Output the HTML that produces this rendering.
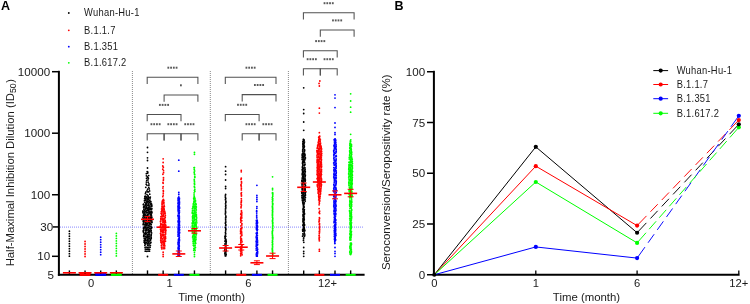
<!DOCTYPE html><html><head><meta charset="utf-8"><style>html,body{margin:0;padding:0;background:#fff;width:750px;height:304px;overflow:hidden}svg{display:block}</style></head><body>
<svg style="will-change:transform" width="750" height="304" viewBox="0 0 750 304" font-family='"Liberation Sans", sans-serif'>
<rect width="750" height="304" fill="#fff"/>
<text x="1" y="9.8" font-size="12.5" font-weight="bold" fill="#000">A</text>
<circle cx="68.8" cy="13" r="0.9" fill="#000"/>
<text transform="translate(84.1 16.30) scale(0.9 1)" font-size="10.4" letter-spacing="0.3" fill="#1a1a1a">Wuhan-Hu-1</text>
<circle cx="68.8" cy="30.3" r="0.9" fill="#ff0000"/>
<text transform="translate(84.1 33.60) scale(0.9 1)" font-size="10.4" letter-spacing="0.3" fill="#1a1a1a">B.1.1.7</text>
<circle cx="68.8" cy="46.7" r="0.9" fill="#0000ff"/>
<text transform="translate(84.1 50.00) scale(0.9 1)" font-size="10.4" letter-spacing="0.3" fill="#1a1a1a">B.1.351</text>
<circle cx="68.8" cy="62.8" r="0.9" fill="#00ff00"/>
<text transform="translate(84.1 66.10) scale(0.9 1)" font-size="10.4" letter-spacing="0.3" fill="#1a1a1a">B.1.617.2</text>
<line x1="132.4" y1="71" x2="132.4" y2="274" stroke="#8a8a8a" stroke-width="1" stroke-dasharray="1 1"/>
<line x1="210.3" y1="71" x2="210.3" y2="274" stroke="#8a8a8a" stroke-width="1" stroke-dasharray="1 1"/>
<line x1="288.4" y1="71" x2="288.4" y2="274" stroke="#8a8a8a" stroke-width="1" stroke-dasharray="1 1"/>
<line x1="60" y1="227.1" x2="364" y2="227.1" stroke="#7a7aff" stroke-width="0.9" stroke-dasharray="1 1"/>
<line x1="52" y1="71.70" x2="59" y2="71.70" stroke="#000" stroke-width="1.5"/>
<text x="50.1" y="75.80" font-size="11.6" text-anchor="end" fill="#1a1a1a">10000</text>
<line x1="52" y1="133.20" x2="59" y2="133.20" stroke="#000" stroke-width="1.5"/>
<text x="50.1" y="137.30" font-size="11.6" text-anchor="end" fill="#1a1a1a">1000</text>
<line x1="52" y1="194.75" x2="59" y2="194.75" stroke="#000" stroke-width="1.5"/>
<text x="50.1" y="198.85" font-size="11.6" text-anchor="end" fill="#1a1a1a">100</text>
<line x1="53" y1="226.93" x2="59" y2="226.93" stroke="#000" stroke-width="1.5"/>
<text x="53.1" y="231.03" font-size="11.6" text-anchor="end" fill="#1a1a1a">30</text>
<line x1="52" y1="256.30" x2="59" y2="256.30" stroke="#000" stroke-width="1.5"/>
<text x="50.1" y="260.40" font-size="11.6" text-anchor="end" fill="#1a1a1a">10</text>
<text x="53.9" y="278.70" font-size="11.6" text-anchor="end" fill="#1a1a1a">5</text>
<line x1="58.9" y1="70.8" x2="58.9" y2="275.8" stroke="#000" stroke-width="2"/>
<text transform="translate(13.6 172.6) rotate(-90)" font-size="11.3" text-anchor="middle" fill="#1a1a1a">Half-Maximal Inhibition Dilution (ID<tspan font-size="8.8" dy="2.4">50</tspan><tspan dy="-2.4" dx="0.6">)</tspan></text>
<circle cx="69.40" cy="231.20" r="0.9" fill="#000"/>
<circle cx="69.40" cy="233.70" r="0.9" fill="#000"/>
<circle cx="69.40" cy="236.20" r="0.9" fill="#000"/>
<circle cx="69.40" cy="238.70" r="0.9" fill="#000"/>
<circle cx="69.40" cy="241.20" r="0.9" fill="#000"/>
<circle cx="69.40" cy="243.70" r="0.9" fill="#000"/>
<circle cx="69.40" cy="246.20" r="0.9" fill="#000"/>
<circle cx="69.40" cy="248.70" r="0.9" fill="#000"/>
<circle cx="69.40" cy="251.20" r="0.9" fill="#000"/>
<circle cx="69.40" cy="253.70" r="0.9" fill="#000"/>
<circle cx="69.40" cy="256.20" r="0.9" fill="#000"/>
<circle cx="147.50" cy="147.50" r="0.9" fill="#000"/>
<circle cx="147.50" cy="152.30" r="0.9" fill="#000"/>
<circle cx="147.50" cy="157.80" r="0.9" fill="#000"/>
<circle cx="147.50" cy="160.50" r="0.9" fill="#000"/>
<circle cx="147.50" cy="168.00" r="0.9" fill="#000"/>
<circle cx="147.18" cy="171.58" r="0.9" fill="#000"/>
<circle cx="147.84" cy="172.04" r="0.9" fill="#000"/>
<circle cx="146.38" cy="173.71" r="0.9" fill="#000"/>
<circle cx="147.57" cy="173.18" r="0.9" fill="#000"/>
<circle cx="146.42" cy="175.79" r="0.9" fill="#000"/>
<circle cx="148.67" cy="175.55" r="0.9" fill="#000"/>
<circle cx="147.38" cy="176.98" r="0.9" fill="#000"/>
<circle cx="147.94" cy="177.53" r="0.9" fill="#000"/>
<circle cx="146.51" cy="178.34" r="0.9" fill="#000"/>
<circle cx="148.36" cy="178.42" r="0.9" fill="#000"/>
<circle cx="146.73" cy="180.35" r="0.9" fill="#000"/>
<circle cx="147.97" cy="179.97" r="0.9" fill="#000"/>
<circle cx="146.38" cy="182.11" r="0.9" fill="#000"/>
<circle cx="148.15" cy="182.14" r="0.9" fill="#000"/>
<circle cx="146.24" cy="184.14" r="0.9" fill="#000"/>
<circle cx="148.91" cy="183.93" r="0.9" fill="#000"/>
<circle cx="147.03" cy="185.35" r="0.9" fill="#000"/>
<circle cx="148.86" cy="185.50" r="0.9" fill="#000"/>
<circle cx="145.76" cy="187.29" r="0.9" fill="#000"/>
<circle cx="148.78" cy="187.62" r="0.9" fill="#000"/>
<circle cx="147.61" cy="189.23" r="0.9" fill="#000"/>
<circle cx="149.24" cy="188.95" r="0.9" fill="#000"/>
<circle cx="146.97" cy="190.90" r="0.9" fill="#000"/>
<circle cx="149.57" cy="190.88" r="0.9" fill="#000"/>
<circle cx="145.75" cy="192.14" r="0.9" fill="#000"/>
<circle cx="147.45" cy="191.83" r="0.9" fill="#000"/>
<circle cx="148.59" cy="191.94" r="0.9" fill="#000"/>
<circle cx="145.44" cy="193.66" r="0.9" fill="#000"/>
<circle cx="147.00" cy="194.55" r="0.9" fill="#000"/>
<circle cx="149.72" cy="194.16" r="0.9" fill="#000"/>
<circle cx="145.33" cy="196.24" r="0.9" fill="#000"/>
<circle cx="147.96" cy="195.63" r="0.9" fill="#000"/>
<circle cx="144.86" cy="196.71" r="0.9" fill="#000"/>
<circle cx="146.78" cy="196.99" r="0.9" fill="#000"/>
<circle cx="148.23" cy="196.55" r="0.9" fill="#000"/>
<circle cx="150.31" cy="197.06" r="0.9" fill="#000"/>
<circle cx="145.04" cy="198.01" r="0.9" fill="#000"/>
<circle cx="146.58" cy="197.60" r="0.9" fill="#000"/>
<circle cx="147.77" cy="198.34" r="0.9" fill="#000"/>
<circle cx="148.43" cy="197.91" r="0.9" fill="#000"/>
<circle cx="149.68" cy="197.61" r="0.9" fill="#000"/>
<circle cx="144.62" cy="198.70" r="0.9" fill="#000"/>
<circle cx="145.82" cy="198.55" r="0.9" fill="#000"/>
<circle cx="147.07" cy="198.88" r="0.9" fill="#000"/>
<circle cx="148.55" cy="199.10" r="0.9" fill="#000"/>
<circle cx="150.11" cy="198.86" r="0.9" fill="#000"/>
<circle cx="145.04" cy="200.31" r="0.9" fill="#000"/>
<circle cx="145.68" cy="199.99" r="0.9" fill="#000"/>
<circle cx="147.29" cy="199.86" r="0.9" fill="#000"/>
<circle cx="148.52" cy="199.70" r="0.9" fill="#000"/>
<circle cx="144.47" cy="200.68" r="0.9" fill="#000"/>
<circle cx="146.40" cy="201.03" r="0.9" fill="#000"/>
<circle cx="147.29" cy="201.18" r="0.9" fill="#000"/>
<circle cx="149.28" cy="200.70" r="0.9" fill="#000"/>
<circle cx="150.41" cy="201.25" r="0.9" fill="#000"/>
<circle cx="144.70" cy="202.28" r="0.9" fill="#000"/>
<circle cx="146.17" cy="202.28" r="0.9" fill="#000"/>
<circle cx="147.52" cy="201.75" r="0.9" fill="#000"/>
<circle cx="148.69" cy="201.58" r="0.9" fill="#000"/>
<circle cx="150.91" cy="201.78" r="0.9" fill="#000"/>
<circle cx="145.90" cy="203.39" r="0.9" fill="#000"/>
<circle cx="147.93" cy="202.75" r="0.9" fill="#000"/>
<circle cx="149.65" cy="202.73" r="0.9" fill="#000"/>
<circle cx="150.88" cy="203.31" r="0.9" fill="#000"/>
<circle cx="143.56" cy="204.27" r="0.9" fill="#000"/>
<circle cx="145.61" cy="204.37" r="0.9" fill="#000"/>
<circle cx="146.50" cy="203.98" r="0.9" fill="#000"/>
<circle cx="148.48" cy="203.85" r="0.9" fill="#000"/>
<circle cx="151.47" cy="203.91" r="0.9" fill="#000"/>
<circle cx="143.43" cy="204.70" r="0.9" fill="#000"/>
<circle cx="145.54" cy="205.36" r="0.9" fill="#000"/>
<circle cx="147.19" cy="205.29" r="0.9" fill="#000"/>
<circle cx="148.29" cy="204.87" r="0.9" fill="#000"/>
<circle cx="150.16" cy="204.56" r="0.9" fill="#000"/>
<circle cx="151.62" cy="205.02" r="0.9" fill="#000"/>
<circle cx="143.89" cy="206.33" r="0.9" fill="#000"/>
<circle cx="144.97" cy="205.78" r="0.9" fill="#000"/>
<circle cx="146.50" cy="206.08" r="0.9" fill="#000"/>
<circle cx="148.65" cy="205.67" r="0.9" fill="#000"/>
<circle cx="149.92" cy="205.96" r="0.9" fill="#000"/>
<circle cx="151.78" cy="205.93" r="0.9" fill="#000"/>
<circle cx="143.59" cy="207.03" r="0.9" fill="#000"/>
<circle cx="144.85" cy="206.95" r="0.9" fill="#000"/>
<circle cx="146.42" cy="207.27" r="0.9" fill="#000"/>
<circle cx="148.34" cy="207.20" r="0.9" fill="#000"/>
<circle cx="149.91" cy="207.02" r="0.9" fill="#000"/>
<circle cx="151.49" cy="206.65" r="0.9" fill="#000"/>
<circle cx="143.78" cy="207.80" r="0.9" fill="#000"/>
<circle cx="145.35" cy="208.06" r="0.9" fill="#000"/>
<circle cx="146.81" cy="207.95" r="0.9" fill="#000"/>
<circle cx="148.47" cy="208.01" r="0.9" fill="#000"/>
<circle cx="149.86" cy="208.03" r="0.9" fill="#000"/>
<circle cx="143.90" cy="209.34" r="0.9" fill="#000"/>
<circle cx="145.23" cy="209.05" r="0.9" fill="#000"/>
<circle cx="145.83" cy="208.67" r="0.9" fill="#000"/>
<circle cx="147.27" cy="208.62" r="0.9" fill="#000"/>
<circle cx="149.09" cy="209.15" r="0.9" fill="#000"/>
<circle cx="150.36" cy="208.69" r="0.9" fill="#000"/>
<circle cx="151.84" cy="208.68" r="0.9" fill="#000"/>
<circle cx="144.72" cy="210.41" r="0.9" fill="#000"/>
<circle cx="146.45" cy="210.44" r="0.9" fill="#000"/>
<circle cx="147.51" cy="209.94" r="0.9" fill="#000"/>
<circle cx="148.68" cy="209.73" r="0.9" fill="#000"/>
<circle cx="150.24" cy="209.57" r="0.9" fill="#000"/>
<circle cx="151.38" cy="209.57" r="0.9" fill="#000"/>
<circle cx="143.04" cy="211.01" r="0.9" fill="#000"/>
<circle cx="145.79" cy="211.42" r="0.9" fill="#000"/>
<circle cx="147.75" cy="210.59" r="0.9" fill="#000"/>
<circle cx="148.79" cy="210.67" r="0.9" fill="#000"/>
<circle cx="149.99" cy="211.29" r="0.9" fill="#000"/>
<circle cx="151.63" cy="211.38" r="0.9" fill="#000"/>
<circle cx="143.00" cy="211.63" r="0.9" fill="#000"/>
<circle cx="144.38" cy="211.93" r="0.9" fill="#000"/>
<circle cx="146.40" cy="212.12" r="0.9" fill="#000"/>
<circle cx="147.11" cy="212.32" r="0.9" fill="#000"/>
<circle cx="148.72" cy="211.96" r="0.9" fill="#000"/>
<circle cx="150.02" cy="212.38" r="0.9" fill="#000"/>
<circle cx="151.36" cy="212.02" r="0.9" fill="#000"/>
<circle cx="142.96" cy="212.70" r="0.9" fill="#000"/>
<circle cx="144.57" cy="212.83" r="0.9" fill="#000"/>
<circle cx="146.12" cy="212.81" r="0.9" fill="#000"/>
<circle cx="147.07" cy="212.86" r="0.9" fill="#000"/>
<circle cx="149.09" cy="212.56" r="0.9" fill="#000"/>
<circle cx="150.23" cy="212.72" r="0.9" fill="#000"/>
<circle cx="151.92" cy="212.65" r="0.9" fill="#000"/>
<circle cx="143.63" cy="214.00" r="0.9" fill="#000"/>
<circle cx="144.89" cy="214.01" r="0.9" fill="#000"/>
<circle cx="147.69" cy="214.30" r="0.9" fill="#000"/>
<circle cx="148.75" cy="213.91" r="0.9" fill="#000"/>
<circle cx="149.89" cy="213.67" r="0.9" fill="#000"/>
<circle cx="151.36" cy="213.78" r="0.9" fill="#000"/>
<circle cx="143.63" cy="215.31" r="0.9" fill="#000"/>
<circle cx="144.47" cy="214.80" r="0.9" fill="#000"/>
<circle cx="145.79" cy="214.96" r="0.9" fill="#000"/>
<circle cx="147.92" cy="214.79" r="0.9" fill="#000"/>
<circle cx="150.72" cy="214.77" r="0.9" fill="#000"/>
<circle cx="151.25" cy="214.87" r="0.9" fill="#000"/>
<circle cx="143.33" cy="215.98" r="0.9" fill="#000"/>
<circle cx="144.27" cy="216.00" r="0.9" fill="#000"/>
<circle cx="146.02" cy="215.63" r="0.9" fill="#000"/>
<circle cx="147.32" cy="215.57" r="0.9" fill="#000"/>
<circle cx="148.92" cy="216.08" r="0.9" fill="#000"/>
<circle cx="150.48" cy="216.14" r="0.9" fill="#000"/>
<circle cx="151.52" cy="215.90" r="0.9" fill="#000"/>
<circle cx="144.86" cy="217.20" r="0.9" fill="#000"/>
<circle cx="146.47" cy="217.30" r="0.9" fill="#000"/>
<circle cx="147.78" cy="217.21" r="0.9" fill="#000"/>
<circle cx="148.89" cy="217.02" r="0.9" fill="#000"/>
<circle cx="150.56" cy="217.27" r="0.9" fill="#000"/>
<circle cx="151.82" cy="217.35" r="0.9" fill="#000"/>
<circle cx="142.95" cy="217.76" r="0.9" fill="#000"/>
<circle cx="144.39" cy="217.87" r="0.9" fill="#000"/>
<circle cx="146.24" cy="218.05" r="0.9" fill="#000"/>
<circle cx="147.49" cy="218.16" r="0.9" fill="#000"/>
<circle cx="149.10" cy="218.27" r="0.9" fill="#000"/>
<circle cx="150.40" cy="218.03" r="0.9" fill="#000"/>
<circle cx="151.41" cy="218.21" r="0.9" fill="#000"/>
<circle cx="143.60" cy="218.79" r="0.9" fill="#000"/>
<circle cx="145.19" cy="219.22" r="0.9" fill="#000"/>
<circle cx="146.11" cy="218.89" r="0.9" fill="#000"/>
<circle cx="147.61" cy="219.24" r="0.9" fill="#000"/>
<circle cx="148.55" cy="218.62" r="0.9" fill="#000"/>
<circle cx="150.06" cy="219.22" r="0.9" fill="#000"/>
<circle cx="151.21" cy="218.56" r="0.9" fill="#000"/>
<circle cx="143.59" cy="220.15" r="0.9" fill="#000"/>
<circle cx="144.79" cy="219.81" r="0.9" fill="#000"/>
<circle cx="145.80" cy="219.97" r="0.9" fill="#000"/>
<circle cx="147.93" cy="219.73" r="0.9" fill="#000"/>
<circle cx="148.82" cy="219.57" r="0.9" fill="#000"/>
<circle cx="150.18" cy="220.42" r="0.9" fill="#000"/>
<circle cx="151.98" cy="219.74" r="0.9" fill="#000"/>
<circle cx="143.12" cy="221.07" r="0.9" fill="#000"/>
<circle cx="144.46" cy="221.41" r="0.9" fill="#000"/>
<circle cx="146.50" cy="221.01" r="0.9" fill="#000"/>
<circle cx="147.86" cy="220.76" r="0.9" fill="#000"/>
<circle cx="148.41" cy="220.57" r="0.9" fill="#000"/>
<circle cx="150.03" cy="220.96" r="0.9" fill="#000"/>
<circle cx="151.39" cy="220.86" r="0.9" fill="#000"/>
<circle cx="143.69" cy="221.55" r="0.9" fill="#000"/>
<circle cx="145.19" cy="221.66" r="0.9" fill="#000"/>
<circle cx="145.97" cy="222.36" r="0.9" fill="#000"/>
<circle cx="147.95" cy="221.90" r="0.9" fill="#000"/>
<circle cx="148.78" cy="221.87" r="0.9" fill="#000"/>
<circle cx="149.83" cy="221.59" r="0.9" fill="#000"/>
<circle cx="151.93" cy="221.81" r="0.9" fill="#000"/>
<circle cx="143.50" cy="222.79" r="0.9" fill="#000"/>
<circle cx="145.24" cy="222.89" r="0.9" fill="#000"/>
<circle cx="146.28" cy="223.28" r="0.9" fill="#000"/>
<circle cx="147.54" cy="223.40" r="0.9" fill="#000"/>
<circle cx="149.05" cy="222.59" r="0.9" fill="#000"/>
<circle cx="150.30" cy="223.23" r="0.9" fill="#000"/>
<circle cx="151.90" cy="222.59" r="0.9" fill="#000"/>
<circle cx="143.37" cy="223.97" r="0.9" fill="#000"/>
<circle cx="145.27" cy="224.22" r="0.9" fill="#000"/>
<circle cx="145.99" cy="224.14" r="0.9" fill="#000"/>
<circle cx="147.20" cy="223.90" r="0.9" fill="#000"/>
<circle cx="149.19" cy="223.74" r="0.9" fill="#000"/>
<circle cx="150.52" cy="223.75" r="0.9" fill="#000"/>
<circle cx="143.26" cy="224.68" r="0.9" fill="#000"/>
<circle cx="144.75" cy="224.86" r="0.9" fill="#000"/>
<circle cx="146.77" cy="224.78" r="0.9" fill="#000"/>
<circle cx="148.21" cy="225.22" r="0.9" fill="#000"/>
<circle cx="149.77" cy="225.02" r="0.9" fill="#000"/>
<circle cx="151.26" cy="224.61" r="0.9" fill="#000"/>
<circle cx="145.25" cy="226.00" r="0.9" fill="#000"/>
<circle cx="146.51" cy="225.74" r="0.9" fill="#000"/>
<circle cx="148.24" cy="225.91" r="0.9" fill="#000"/>
<circle cx="151.01" cy="226.34" r="0.9" fill="#000"/>
<circle cx="143.94" cy="227.19" r="0.9" fill="#000"/>
<circle cx="144.70" cy="227.08" r="0.9" fill="#000"/>
<circle cx="147.01" cy="227.38" r="0.9" fill="#000"/>
<circle cx="148.06" cy="227.43" r="0.9" fill="#000"/>
<circle cx="149.87" cy="226.69" r="0.9" fill="#000"/>
<circle cx="151.62" cy="227.40" r="0.9" fill="#000"/>
<circle cx="143.57" cy="228.24" r="0.9" fill="#000"/>
<circle cx="145.42" cy="227.59" r="0.9" fill="#000"/>
<circle cx="146.85" cy="228.38" r="0.9" fill="#000"/>
<circle cx="148.06" cy="227.67" r="0.9" fill="#000"/>
<circle cx="149.49" cy="228.18" r="0.9" fill="#000"/>
<circle cx="151.47" cy="228.02" r="0.9" fill="#000"/>
<circle cx="143.72" cy="228.75" r="0.9" fill="#000"/>
<circle cx="145.14" cy="228.82" r="0.9" fill="#000"/>
<circle cx="148.25" cy="229.35" r="0.9" fill="#000"/>
<circle cx="150.24" cy="228.77" r="0.9" fill="#000"/>
<circle cx="150.94" cy="228.83" r="0.9" fill="#000"/>
<circle cx="143.58" cy="230.16" r="0.9" fill="#000"/>
<circle cx="145.57" cy="230.15" r="0.9" fill="#000"/>
<circle cx="146.58" cy="229.58" r="0.9" fill="#000"/>
<circle cx="148.00" cy="230.16" r="0.9" fill="#000"/>
<circle cx="149.81" cy="230.22" r="0.9" fill="#000"/>
<circle cx="151.18" cy="230.42" r="0.9" fill="#000"/>
<circle cx="143.43" cy="230.76" r="0.9" fill="#000"/>
<circle cx="145.61" cy="230.82" r="0.9" fill="#000"/>
<circle cx="146.49" cy="230.72" r="0.9" fill="#000"/>
<circle cx="148.67" cy="231.15" r="0.9" fill="#000"/>
<circle cx="149.54" cy="230.90" r="0.9" fill="#000"/>
<circle cx="143.30" cy="231.60" r="0.9" fill="#000"/>
<circle cx="145.57" cy="232.36" r="0.9" fill="#000"/>
<circle cx="147.13" cy="232.45" r="0.9" fill="#000"/>
<circle cx="148.65" cy="231.72" r="0.9" fill="#000"/>
<circle cx="149.93" cy="231.58" r="0.9" fill="#000"/>
<circle cx="151.15" cy="231.89" r="0.9" fill="#000"/>
<circle cx="143.59" cy="232.55" r="0.9" fill="#000"/>
<circle cx="144.93" cy="233.41" r="0.9" fill="#000"/>
<circle cx="148.53" cy="232.87" r="0.9" fill="#000"/>
<circle cx="149.32" cy="232.94" r="0.9" fill="#000"/>
<circle cx="151.59" cy="232.89" r="0.9" fill="#000"/>
<circle cx="144.22" cy="233.88" r="0.9" fill="#000"/>
<circle cx="145.60" cy="233.92" r="0.9" fill="#000"/>
<circle cx="146.35" cy="233.59" r="0.9" fill="#000"/>
<circle cx="148.01" cy="234.38" r="0.9" fill="#000"/>
<circle cx="149.54" cy="234.36" r="0.9" fill="#000"/>
<circle cx="151.24" cy="234.41" r="0.9" fill="#000"/>
<circle cx="143.78" cy="235.19" r="0.9" fill="#000"/>
<circle cx="145.60" cy="234.55" r="0.9" fill="#000"/>
<circle cx="147.19" cy="235.12" r="0.9" fill="#000"/>
<circle cx="148.19" cy="234.76" r="0.9" fill="#000"/>
<circle cx="143.97" cy="235.78" r="0.9" fill="#000"/>
<circle cx="145.13" cy="236.39" r="0.9" fill="#000"/>
<circle cx="147.10" cy="236.21" r="0.9" fill="#000"/>
<circle cx="148.04" cy="236.10" r="0.9" fill="#000"/>
<circle cx="149.83" cy="235.88" r="0.9" fill="#000"/>
<circle cx="151.19" cy="235.73" r="0.9" fill="#000"/>
<circle cx="143.70" cy="236.61" r="0.9" fill="#000"/>
<circle cx="145.90" cy="236.84" r="0.9" fill="#000"/>
<circle cx="146.61" cy="237.44" r="0.9" fill="#000"/>
<circle cx="148.18" cy="236.64" r="0.9" fill="#000"/>
<circle cx="149.29" cy="236.95" r="0.9" fill="#000"/>
<circle cx="151.04" cy="237.11" r="0.9" fill="#000"/>
<circle cx="144.35" cy="238.31" r="0.9" fill="#000"/>
<circle cx="145.33" cy="238.31" r="0.9" fill="#000"/>
<circle cx="147.05" cy="237.89" r="0.9" fill="#000"/>
<circle cx="147.93" cy="237.77" r="0.9" fill="#000"/>
<circle cx="149.55" cy="238.35" r="0.9" fill="#000"/>
<circle cx="151.24" cy="237.91" r="0.9" fill="#000"/>
<circle cx="144.56" cy="238.76" r="0.9" fill="#000"/>
<circle cx="145.53" cy="239.44" r="0.9" fill="#000"/>
<circle cx="147.81" cy="239.29" r="0.9" fill="#000"/>
<circle cx="148.92" cy="238.59" r="0.9" fill="#000"/>
<circle cx="151.14" cy="238.72" r="0.9" fill="#000"/>
<circle cx="144.25" cy="240.39" r="0.9" fill="#000"/>
<circle cx="145.72" cy="239.95" r="0.9" fill="#000"/>
<circle cx="147.15" cy="240.40" r="0.9" fill="#000"/>
<circle cx="148.81" cy="240.11" r="0.9" fill="#000"/>
<circle cx="150.37" cy="239.68" r="0.9" fill="#000"/>
<circle cx="144.59" cy="241.09" r="0.9" fill="#000"/>
<circle cx="145.82" cy="240.56" r="0.9" fill="#000"/>
<circle cx="147.33" cy="240.72" r="0.9" fill="#000"/>
<circle cx="149.07" cy="241.27" r="0.9" fill="#000"/>
<circle cx="150.46" cy="240.64" r="0.9" fill="#000"/>
<circle cx="144.17" cy="242.13" r="0.9" fill="#000"/>
<circle cx="145.94" cy="242.18" r="0.9" fill="#000"/>
<circle cx="147.91" cy="241.83" r="0.9" fill="#000"/>
<circle cx="148.85" cy="242.06" r="0.9" fill="#000"/>
<circle cx="150.91" cy="242.33" r="0.9" fill="#000"/>
<circle cx="144.82" cy="242.73" r="0.9" fill="#000"/>
<circle cx="146.42" cy="242.56" r="0.9" fill="#000"/>
<circle cx="147.42" cy="243.29" r="0.9" fill="#000"/>
<circle cx="148.64" cy="242.96" r="0.9" fill="#000"/>
<circle cx="150.51" cy="243.05" r="0.9" fill="#000"/>
<circle cx="144.81" cy="243.63" r="0.9" fill="#000"/>
<circle cx="145.78" cy="244.00" r="0.9" fill="#000"/>
<circle cx="147.88" cy="244.02" r="0.9" fill="#000"/>
<circle cx="149.17" cy="243.99" r="0.9" fill="#000"/>
<circle cx="144.88" cy="245.35" r="0.9" fill="#000"/>
<circle cx="147.67" cy="245.32" r="0.9" fill="#000"/>
<circle cx="148.95" cy="245.66" r="0.9" fill="#000"/>
<circle cx="150.41" cy="245.36" r="0.9" fill="#000"/>
<circle cx="145.05" cy="247.36" r="0.9" fill="#000"/>
<circle cx="146.09" cy="247.27" r="0.9" fill="#000"/>
<circle cx="147.45" cy="247.41" r="0.9" fill="#000"/>
<circle cx="148.89" cy="247.30" r="0.9" fill="#000"/>
<circle cx="150.12" cy="247.22" r="0.9" fill="#000"/>
<circle cx="145.25" cy="249.12" r="0.9" fill="#000"/>
<circle cx="146.33" cy="249.34" r="0.9" fill="#000"/>
<circle cx="147.47" cy="249.22" r="0.9" fill="#000"/>
<circle cx="148.76" cy="249.27" r="0.9" fill="#000"/>
<circle cx="149.69" cy="249.28" r="0.9" fill="#000"/>
<circle cx="145.27" cy="251.20" r="0.9" fill="#000"/>
<circle cx="146.78" cy="251.31" r="0.9" fill="#000"/>
<circle cx="148.05" cy="251.19" r="0.9" fill="#000"/>
<circle cx="149.46" cy="251.17" r="0.9" fill="#000"/>
<circle cx="147.50" cy="256.50" r="0.9" fill="#000"/>
<circle cx="225.60" cy="166.70" r="0.9" fill="#000"/>
<circle cx="225.60" cy="171.20" r="0.9" fill="#000"/>
<circle cx="225.60" cy="174.50" r="0.9" fill="#000"/>
<circle cx="225.60" cy="180.00" r="0.9" fill="#000"/>
<circle cx="225.60" cy="186.50" r="0.9" fill="#000"/>
<circle cx="225.60" cy="188.50" r="0.9" fill="#000"/>
<circle cx="225.60" cy="194.50" r="0.9" fill="#000"/>
<circle cx="225.34" cy="195.85" r="0.9" fill="#000"/>
<circle cx="225.42" cy="197.25" r="0.9" fill="#000"/>
<circle cx="225.72" cy="198.38" r="0.9" fill="#000"/>
<circle cx="225.45" cy="199.74" r="0.9" fill="#000"/>
<circle cx="225.86" cy="201.17" r="0.9" fill="#000"/>
<circle cx="225.83" cy="202.38" r="0.9" fill="#000"/>
<circle cx="225.50" cy="203.84" r="0.9" fill="#000"/>
<circle cx="225.76" cy="205.13" r="0.9" fill="#000"/>
<circle cx="225.66" cy="206.50" r="0.9" fill="#000"/>
<circle cx="225.80" cy="207.86" r="0.9" fill="#000"/>
<circle cx="225.52" cy="208.87" r="0.9" fill="#000"/>
<circle cx="225.47" cy="210.04" r="0.9" fill="#000"/>
<circle cx="225.57" cy="211.72" r="0.9" fill="#000"/>
<circle cx="225.58" cy="212.79" r="0.9" fill="#000"/>
<circle cx="225.34" cy="214.00" r="0.9" fill="#000"/>
<circle cx="225.75" cy="215.80" r="0.9" fill="#000"/>
<circle cx="225.89" cy="216.93" r="0.9" fill="#000"/>
<circle cx="225.59" cy="217.87" r="0.9" fill="#000"/>
<circle cx="225.63" cy="219.21" r="0.9" fill="#000"/>
<circle cx="225.69" cy="220.95" r="0.9" fill="#000"/>
<circle cx="225.69" cy="222.26" r="0.9" fill="#000"/>
<circle cx="225.38" cy="223.15" r="0.9" fill="#000"/>
<circle cx="225.80" cy="224.76" r="0.9" fill="#000"/>
<circle cx="225.68" cy="225.71" r="0.9" fill="#000"/>
<circle cx="225.40" cy="227.46" r="0.9" fill="#000"/>
<circle cx="225.75" cy="228.70" r="0.9" fill="#000"/>
<circle cx="225.80" cy="229.61" r="0.9" fill="#000"/>
<circle cx="225.63" cy="231.02" r="0.9" fill="#000"/>
<circle cx="225.44" cy="232.60" r="0.9" fill="#000"/>
<circle cx="225.68" cy="233.74" r="0.9" fill="#000"/>
<circle cx="225.41" cy="235.12" r="0.9" fill="#000"/>
<circle cx="224.96" cy="236.30" r="0.9" fill="#000"/>
<circle cx="225.78" cy="236.35" r="0.9" fill="#000"/>
<circle cx="225.13" cy="237.40" r="0.9" fill="#000"/>
<circle cx="225.12" cy="238.62" r="0.9" fill="#000"/>
<circle cx="225.74" cy="239.03" r="0.9" fill="#000"/>
<circle cx="225.33" cy="240.41" r="0.9" fill="#000"/>
<circle cx="226.14" cy="240.07" r="0.9" fill="#000"/>
<circle cx="225.05" cy="241.45" r="0.9" fill="#000"/>
<circle cx="226.25" cy="241.60" r="0.9" fill="#000"/>
<circle cx="226.02" cy="242.68" r="0.9" fill="#000"/>
<circle cx="224.96" cy="244.01" r="0.9" fill="#000"/>
<circle cx="226.04" cy="243.99" r="0.9" fill="#000"/>
<circle cx="225.41" cy="246.98" r="0.9" fill="#000"/>
<circle cx="225.80" cy="246.89" r="0.9" fill="#000"/>
<circle cx="225.01" cy="248.07" r="0.9" fill="#000"/>
<circle cx="226.06" cy="248.27" r="0.9" fill="#000"/>
<circle cx="225.03" cy="249.18" r="0.9" fill="#000"/>
<circle cx="225.89" cy="249.02" r="0.9" fill="#000"/>
<circle cx="224.87" cy="250.57" r="0.9" fill="#000"/>
<circle cx="226.13" cy="250.52" r="0.9" fill="#000"/>
<circle cx="225.15" cy="251.92" r="0.9" fill="#000"/>
<circle cx="225.89" cy="251.67" r="0.9" fill="#000"/>
<circle cx="224.88" cy="253.23" r="0.9" fill="#000"/>
<circle cx="225.85" cy="253.05" r="0.9" fill="#000"/>
<circle cx="225.10" cy="254.35" r="0.9" fill="#000"/>
<circle cx="226.14" cy="254.34" r="0.9" fill="#000"/>
<circle cx="225.16" cy="255.81" r="0.9" fill="#000"/>
<circle cx="225.84" cy="255.74" r="0.9" fill="#000"/>
<circle cx="303.70" cy="87.80" r="0.9" fill="#000"/>
<circle cx="303.70" cy="109.60" r="0.9" fill="#000"/>
<circle cx="303.70" cy="113.50" r="0.9" fill="#000"/>
<circle cx="303.70" cy="122.00" r="0.9" fill="#000"/>
<circle cx="303.70" cy="130.30" r="0.9" fill="#000"/>
<circle cx="303.36" cy="139.29" r="0.9" fill="#000"/>
<circle cx="303.69" cy="139.69" r="0.9" fill="#000"/>
<circle cx="304.04" cy="140.19" r="0.9" fill="#000"/>
<circle cx="303.15" cy="141.04" r="0.9" fill="#000"/>
<circle cx="303.80" cy="141.17" r="0.9" fill="#000"/>
<circle cx="302.95" cy="141.62" r="0.9" fill="#000"/>
<circle cx="304.49" cy="142.08" r="0.9" fill="#000"/>
<circle cx="303.03" cy="142.93" r="0.9" fill="#000"/>
<circle cx="303.90" cy="142.95" r="0.9" fill="#000"/>
<circle cx="302.82" cy="143.91" r="0.9" fill="#000"/>
<circle cx="304.00" cy="143.58" r="0.9" fill="#000"/>
<circle cx="303.19" cy="144.55" r="0.9" fill="#000"/>
<circle cx="304.12" cy="145.03" r="0.9" fill="#000"/>
<circle cx="303.34" cy="145.37" r="0.9" fill="#000"/>
<circle cx="302.96" cy="146.23" r="0.9" fill="#000"/>
<circle cx="304.38" cy="146.38" r="0.9" fill="#000"/>
<circle cx="303.19" cy="147.52" r="0.9" fill="#000"/>
<circle cx="304.08" cy="147.69" r="0.9" fill="#000"/>
<circle cx="303.31" cy="148.20" r="0.9" fill="#000"/>
<circle cx="302.76" cy="149.47" r="0.9" fill="#000"/>
<circle cx="304.47" cy="149.65" r="0.9" fill="#000"/>
<circle cx="302.86" cy="150.07" r="0.9" fill="#000"/>
<circle cx="304.56" cy="150.48" r="0.9" fill="#000"/>
<circle cx="302.62" cy="151.06" r="0.9" fill="#000"/>
<circle cx="304.38" cy="151.63" r="0.9" fill="#000"/>
<circle cx="302.81" cy="151.93" r="0.9" fill="#000"/>
<circle cx="302.78" cy="153.61" r="0.9" fill="#000"/>
<circle cx="303.66" cy="153.12" r="0.9" fill="#000"/>
<circle cx="304.49" cy="153.44" r="0.9" fill="#000"/>
<circle cx="302.24" cy="154.04" r="0.9" fill="#000"/>
<circle cx="303.74" cy="153.88" r="0.9" fill="#000"/>
<circle cx="304.78" cy="154.28" r="0.9" fill="#000"/>
<circle cx="302.19" cy="155.16" r="0.9" fill="#000"/>
<circle cx="303.76" cy="154.86" r="0.9" fill="#000"/>
<circle cx="305.02" cy="155.05" r="0.9" fill="#000"/>
<circle cx="302.80" cy="155.84" r="0.9" fill="#000"/>
<circle cx="304.00" cy="156.37" r="0.9" fill="#000"/>
<circle cx="304.63" cy="155.82" r="0.9" fill="#000"/>
<circle cx="302.37" cy="156.74" r="0.9" fill="#000"/>
<circle cx="303.67" cy="156.74" r="0.9" fill="#000"/>
<circle cx="305.03" cy="157.08" r="0.9" fill="#000"/>
<circle cx="302.22" cy="157.76" r="0.9" fill="#000"/>
<circle cx="303.49" cy="157.70" r="0.9" fill="#000"/>
<circle cx="305.41" cy="158.00" r="0.9" fill="#000"/>
<circle cx="302.37" cy="159.30" r="0.9" fill="#000"/>
<circle cx="303.85" cy="159.01" r="0.9" fill="#000"/>
<circle cx="304.74" cy="159.15" r="0.9" fill="#000"/>
<circle cx="302.38" cy="159.52" r="0.9" fill="#000"/>
<circle cx="304.01" cy="159.73" r="0.9" fill="#000"/>
<circle cx="304.72" cy="159.96" r="0.9" fill="#000"/>
<circle cx="302.71" cy="161.08" r="0.9" fill="#000"/>
<circle cx="303.78" cy="160.65" r="0.9" fill="#000"/>
<circle cx="302.78" cy="161.89" r="0.9" fill="#000"/>
<circle cx="303.95" cy="161.67" r="0.9" fill="#000"/>
<circle cx="304.38" cy="162.14" r="0.9" fill="#000"/>
<circle cx="302.63" cy="162.68" r="0.9" fill="#000"/>
<circle cx="303.89" cy="162.55" r="0.9" fill="#000"/>
<circle cx="304.57" cy="162.47" r="0.9" fill="#000"/>
<circle cx="302.56" cy="163.46" r="0.9" fill="#000"/>
<circle cx="305.01" cy="164.08" r="0.9" fill="#000"/>
<circle cx="302.87" cy="164.63" r="0.9" fill="#000"/>
<circle cx="304.73" cy="164.98" r="0.9" fill="#000"/>
<circle cx="302.96" cy="165.36" r="0.9" fill="#000"/>
<circle cx="304.22" cy="165.83" r="0.9" fill="#000"/>
<circle cx="302.52" cy="166.43" r="0.9" fill="#000"/>
<circle cx="302.43" cy="167.70" r="0.9" fill="#000"/>
<circle cx="304.02" cy="167.85" r="0.9" fill="#000"/>
<circle cx="304.92" cy="167.77" r="0.9" fill="#000"/>
<circle cx="302.91" cy="168.40" r="0.9" fill="#000"/>
<circle cx="303.54" cy="168.75" r="0.9" fill="#000"/>
<circle cx="302.28" cy="169.76" r="0.9" fill="#000"/>
<circle cx="305.08" cy="169.20" r="0.9" fill="#000"/>
<circle cx="302.48" cy="170.11" r="0.9" fill="#000"/>
<circle cx="304.03" cy="170.34" r="0.9" fill="#000"/>
<circle cx="304.80" cy="170.52" r="0.9" fill="#000"/>
<circle cx="302.60" cy="171.53" r="0.9" fill="#000"/>
<circle cx="303.62" cy="171.56" r="0.9" fill="#000"/>
<circle cx="305.22" cy="171.42" r="0.9" fill="#000"/>
<circle cx="302.67" cy="172.33" r="0.9" fill="#000"/>
<circle cx="303.69" cy="171.85" r="0.9" fill="#000"/>
<circle cx="305.25" cy="171.94" r="0.9" fill="#000"/>
<circle cx="302.36" cy="173.28" r="0.9" fill="#000"/>
<circle cx="303.58" cy="172.97" r="0.9" fill="#000"/>
<circle cx="304.84" cy="173.30" r="0.9" fill="#000"/>
<circle cx="302.54" cy="173.97" r="0.9" fill="#000"/>
<circle cx="303.95" cy="174.28" r="0.9" fill="#000"/>
<circle cx="304.65" cy="174.30" r="0.9" fill="#000"/>
<circle cx="302.19" cy="174.85" r="0.9" fill="#000"/>
<circle cx="303.48" cy="174.99" r="0.9" fill="#000"/>
<circle cx="305.34" cy="175.19" r="0.9" fill="#000"/>
<circle cx="302.73" cy="176.05" r="0.9" fill="#000"/>
<circle cx="303.45" cy="176.44" r="0.9" fill="#000"/>
<circle cx="305.05" cy="175.78" r="0.9" fill="#000"/>
<circle cx="302.72" cy="176.74" r="0.9" fill="#000"/>
<circle cx="303.50" cy="177.25" r="0.9" fill="#000"/>
<circle cx="305.08" cy="176.68" r="0.9" fill="#000"/>
<circle cx="302.26" cy="177.96" r="0.9" fill="#000"/>
<circle cx="303.83" cy="178.27" r="0.9" fill="#000"/>
<circle cx="305.00" cy="178.05" r="0.9" fill="#000"/>
<circle cx="302.48" cy="178.79" r="0.9" fill="#000"/>
<circle cx="303.72" cy="178.80" r="0.9" fill="#000"/>
<circle cx="305.05" cy="179.23" r="0.9" fill="#000"/>
<circle cx="301.99" cy="180.23" r="0.9" fill="#000"/>
<circle cx="303.75" cy="180.00" r="0.9" fill="#000"/>
<circle cx="305.37" cy="180.05" r="0.9" fill="#000"/>
<circle cx="301.96" cy="181.00" r="0.9" fill="#000"/>
<circle cx="304.06" cy="180.51" r="0.9" fill="#000"/>
<circle cx="305.14" cy="180.52" r="0.9" fill="#000"/>
<circle cx="302.24" cy="181.39" r="0.9" fill="#000"/>
<circle cx="303.52" cy="181.86" r="0.9" fill="#000"/>
<circle cx="305.11" cy="181.58" r="0.9" fill="#000"/>
<circle cx="302.44" cy="183.08" r="0.9" fill="#000"/>
<circle cx="303.60" cy="182.84" r="0.9" fill="#000"/>
<circle cx="302.13" cy="183.80" r="0.9" fill="#000"/>
<circle cx="303.96" cy="183.71" r="0.9" fill="#000"/>
<circle cx="304.80" cy="183.53" r="0.9" fill="#000"/>
<circle cx="302.03" cy="184.90" r="0.9" fill="#000"/>
<circle cx="303.55" cy="184.34" r="0.9" fill="#000"/>
<circle cx="305.00" cy="184.44" r="0.9" fill="#000"/>
<circle cx="305.47" cy="185.40" r="0.9" fill="#000"/>
<circle cx="302.21" cy="186.36" r="0.9" fill="#000"/>
<circle cx="303.62" cy="186.31" r="0.9" fill="#000"/>
<circle cx="304.95" cy="186.87" r="0.9" fill="#000"/>
<circle cx="302.20" cy="187.78" r="0.9" fill="#000"/>
<circle cx="303.92" cy="187.56" r="0.9" fill="#000"/>
<circle cx="305.37" cy="187.17" r="0.9" fill="#000"/>
<circle cx="302.35" cy="188.45" r="0.9" fill="#000"/>
<circle cx="303.59" cy="188.22" r="0.9" fill="#000"/>
<circle cx="305.02" cy="188.42" r="0.9" fill="#000"/>
<circle cx="302.41" cy="189.16" r="0.9" fill="#000"/>
<circle cx="303.75" cy="189.61" r="0.9" fill="#000"/>
<circle cx="305.02" cy="189.70" r="0.9" fill="#000"/>
<circle cx="302.21" cy="189.96" r="0.9" fill="#000"/>
<circle cx="303.63" cy="190.44" r="0.9" fill="#000"/>
<circle cx="305.08" cy="189.99" r="0.9" fill="#000"/>
<circle cx="302.25" cy="191.62" r="0.9" fill="#000"/>
<circle cx="303.62" cy="191.47" r="0.9" fill="#000"/>
<circle cx="305.13" cy="191.44" r="0.9" fill="#000"/>
<circle cx="302.00" cy="192.44" r="0.9" fill="#000"/>
<circle cx="303.73" cy="192.50" r="0.9" fill="#000"/>
<circle cx="305.60" cy="192.34" r="0.9" fill="#000"/>
<circle cx="301.76" cy="193.02" r="0.9" fill="#000"/>
<circle cx="303.98" cy="193.15" r="0.9" fill="#000"/>
<circle cx="305.22" cy="193.21" r="0.9" fill="#000"/>
<circle cx="302.41" cy="193.92" r="0.9" fill="#000"/>
<circle cx="303.42" cy="194.37" r="0.9" fill="#000"/>
<circle cx="305.27" cy="194.30" r="0.9" fill="#000"/>
<circle cx="302.35" cy="195.37" r="0.9" fill="#000"/>
<circle cx="304.00" cy="195.17" r="0.9" fill="#000"/>
<circle cx="305.40" cy="195.21" r="0.9" fill="#000"/>
<circle cx="301.84" cy="195.82" r="0.9" fill="#000"/>
<circle cx="303.52" cy="196.26" r="0.9" fill="#000"/>
<circle cx="304.89" cy="195.78" r="0.9" fill="#000"/>
<circle cx="302.45" cy="197.33" r="0.9" fill="#000"/>
<circle cx="303.36" cy="197.11" r="0.9" fill="#000"/>
<circle cx="304.79" cy="196.81" r="0.9" fill="#000"/>
<circle cx="302.06" cy="197.61" r="0.9" fill="#000"/>
<circle cx="303.74" cy="197.86" r="0.9" fill="#000"/>
<circle cx="305.42" cy="197.53" r="0.9" fill="#000"/>
<circle cx="302.37" cy="198.63" r="0.9" fill="#000"/>
<circle cx="303.75" cy="198.71" r="0.9" fill="#000"/>
<circle cx="304.90" cy="199.08" r="0.9" fill="#000"/>
<circle cx="302.32" cy="200.05" r="0.9" fill="#000"/>
<circle cx="303.32" cy="200.02" r="0.9" fill="#000"/>
<circle cx="304.76" cy="199.74" r="0.9" fill="#000"/>
<circle cx="302.62" cy="200.93" r="0.9" fill="#000"/>
<circle cx="303.77" cy="200.76" r="0.9" fill="#000"/>
<circle cx="305.25" cy="201.04" r="0.9" fill="#000"/>
<circle cx="302.73" cy="202.07" r="0.9" fill="#000"/>
<circle cx="302.89" cy="202.63" r="0.9" fill="#000"/>
<circle cx="304.38" cy="202.80" r="0.9" fill="#000"/>
<circle cx="303.05" cy="203.47" r="0.9" fill="#000"/>
<circle cx="303.86" cy="203.43" r="0.9" fill="#000"/>
<circle cx="303.25" cy="204.56" r="0.9" fill="#000"/>
<circle cx="303.86" cy="204.71" r="0.9" fill="#000"/>
<circle cx="303.46" cy="205.55" r="0.9" fill="#000"/>
<circle cx="303.64" cy="206.81" r="0.9" fill="#000"/>
<circle cx="303.75" cy="206.63" r="0.9" fill="#000"/>
<circle cx="303.59" cy="207.01" r="0.9" fill="#000"/>
<circle cx="303.91" cy="207.50" r="0.9" fill="#000"/>
<circle cx="303.41" cy="208.08" r="0.9" fill="#000"/>
<circle cx="303.04" cy="208.94" r="0.9" fill="#000"/>
<circle cx="304.34" cy="209.62" r="0.9" fill="#000"/>
<circle cx="302.99" cy="209.93" r="0.9" fill="#000"/>
<circle cx="304.08" cy="210.47" r="0.9" fill="#000"/>
<circle cx="304.08" cy="211.44" r="0.9" fill="#000"/>
<circle cx="302.99" cy="211.85" r="0.9" fill="#000"/>
<circle cx="303.87" cy="212.16" r="0.9" fill="#000"/>
<circle cx="303.63" cy="212.72" r="0.9" fill="#000"/>
<circle cx="304.48" cy="213.46" r="0.9" fill="#000"/>
<circle cx="303.21" cy="214.24" r="0.9" fill="#000"/>
<circle cx="303.81" cy="214.32" r="0.9" fill="#000"/>
<circle cx="303.37" cy="214.77" r="0.9" fill="#000"/>
<circle cx="304.36" cy="214.61" r="0.9" fill="#000"/>
<circle cx="302.93" cy="215.92" r="0.9" fill="#000"/>
<circle cx="303.76" cy="215.98" r="0.9" fill="#000"/>
<circle cx="303.61" cy="217.00" r="0.9" fill="#000"/>
<circle cx="303.86" cy="217.01" r="0.9" fill="#000"/>
<circle cx="303.21" cy="218.17" r="0.9" fill="#000"/>
<circle cx="303.80" cy="217.92" r="0.9" fill="#000"/>
<circle cx="303.37" cy="218.77" r="0.9" fill="#000"/>
<circle cx="304.05" cy="218.97" r="0.9" fill="#000"/>
<circle cx="302.94" cy="219.93" r="0.9" fill="#000"/>
<circle cx="304.24" cy="219.67" r="0.9" fill="#000"/>
<circle cx="303.42" cy="220.49" r="0.9" fill="#000"/>
<circle cx="303.81" cy="220.68" r="0.9" fill="#000"/>
<circle cx="302.95" cy="221.73" r="0.9" fill="#000"/>
<circle cx="303.88" cy="222.04" r="0.9" fill="#000"/>
<circle cx="303.56" cy="222.83" r="0.9" fill="#000"/>
<circle cx="303.73" cy="222.79" r="0.9" fill="#000"/>
<circle cx="303.54" cy="223.93" r="0.9" fill="#000"/>
<circle cx="303.89" cy="223.19" r="0.9" fill="#000"/>
<circle cx="303.44" cy="224.28" r="0.9" fill="#000"/>
<circle cx="304.44" cy="224.61" r="0.9" fill="#000"/>
<circle cx="302.91" cy="225.17" r="0.9" fill="#000"/>
<circle cx="304.48" cy="225.13" r="0.9" fill="#000"/>
<circle cx="303.55" cy="226.15" r="0.9" fill="#000"/>
<circle cx="303.78" cy="226.41" r="0.9" fill="#000"/>
<circle cx="303.63" cy="227.66" r="0.9" fill="#000"/>
<circle cx="304.14" cy="227.63" r="0.9" fill="#000"/>
<circle cx="303.40" cy="228.30" r="0.9" fill="#000"/>
<circle cx="303.76" cy="228.54" r="0.9" fill="#000"/>
<circle cx="303.13" cy="229.29" r="0.9" fill="#000"/>
<circle cx="304.30" cy="228.86" r="0.9" fill="#000"/>
<circle cx="303.55" cy="230.46" r="0.9" fill="#000"/>
<circle cx="304.22" cy="229.90" r="0.9" fill="#000"/>
<circle cx="302.99" cy="231.09" r="0.9" fill="#000"/>
<circle cx="302.62" cy="229.90" r="0.9" fill="#000"/>
<circle cx="304.74" cy="230.24" r="0.9" fill="#000"/>
<circle cx="302.76" cy="231.11" r="0.9" fill="#000"/>
<circle cx="304.57" cy="230.95" r="0.9" fill="#000"/>
<circle cx="304.20" cy="232.05" r="0.9" fill="#000"/>
<circle cx="302.97" cy="233.73" r="0.9" fill="#000"/>
<circle cx="304.44" cy="233.57" r="0.9" fill="#000"/>
<circle cx="303.19" cy="234.90" r="0.9" fill="#000"/>
<circle cx="304.79" cy="235.01" r="0.9" fill="#000"/>
<circle cx="302.57" cy="236.15" r="0.9" fill="#000"/>
<circle cx="304.45" cy="236.24" r="0.9" fill="#000"/>
<circle cx="303.66" cy="237.81" r="0.9" fill="#000"/>
<circle cx="303.56" cy="238.83" r="0.9" fill="#000"/>
<circle cx="303.42" cy="240.38" r="0.9" fill="#000"/>
<circle cx="303.81" cy="242.34" r="0.9" fill="#000"/>
<circle cx="303.70" cy="247.50" r="0.9" fill="#000"/>
<circle cx="303.70" cy="251.30" r="0.9" fill="#000"/>
<circle cx="303.70" cy="253.50" r="0.9" fill="#000"/>
<circle cx="303.70" cy="256.30" r="0.9" fill="#000"/>
<circle cx="85.05" cy="241.50" r="0.9" fill="#ff0000"/>
<circle cx="85.05" cy="244.00" r="0.9" fill="#ff0000"/>
<circle cx="85.05" cy="246.50" r="0.9" fill="#ff0000"/>
<circle cx="85.05" cy="249.00" r="0.9" fill="#ff0000"/>
<circle cx="85.05" cy="251.50" r="0.9" fill="#ff0000"/>
<circle cx="85.05" cy="254.00" r="0.9" fill="#ff0000"/>
<circle cx="85.05" cy="256.50" r="0.9" fill="#ff0000"/>
<circle cx="163.15" cy="158.80" r="0.9" fill="#ff0000"/>
<circle cx="163.15" cy="162.50" r="0.9" fill="#ff0000"/>
<circle cx="162.78" cy="166.01" r="0.9" fill="#ff0000"/>
<circle cx="163.34" cy="167.27" r="0.9" fill="#ff0000"/>
<circle cx="162.79" cy="169.21" r="0.9" fill="#ff0000"/>
<circle cx="163.51" cy="170.70" r="0.9" fill="#ff0000"/>
<circle cx="163.55" cy="172.69" r="0.9" fill="#ff0000"/>
<circle cx="162.90" cy="174.25" r="0.9" fill="#ff0000"/>
<circle cx="163.48" cy="177.57" r="0.9" fill="#ff0000"/>
<circle cx="163.49" cy="179.03" r="0.9" fill="#ff0000"/>
<circle cx="163.35" cy="180.28" r="0.9" fill="#ff0000"/>
<circle cx="162.97" cy="182.32" r="0.9" fill="#ff0000"/>
<circle cx="163.15" cy="183.31" r="0.9" fill="#ff0000"/>
<circle cx="163.15" cy="186.61" r="0.9" fill="#ff0000"/>
<circle cx="162.90" cy="188.03" r="0.9" fill="#ff0000"/>
<circle cx="163.29" cy="190.35" r="0.9" fill="#ff0000"/>
<circle cx="163.38" cy="191.33" r="0.9" fill="#ff0000"/>
<circle cx="163.26" cy="193.22" r="0.9" fill="#ff0000"/>
<circle cx="163.19" cy="195.10" r="0.9" fill="#ff0000"/>
<circle cx="162.83" cy="196.71" r="0.9" fill="#ff0000"/>
<circle cx="163.39" cy="199.52" r="0.9" fill="#ff0000"/>
<circle cx="162.82" cy="200.44" r="0.9" fill="#ff0000"/>
<circle cx="163.50" cy="200.24" r="0.9" fill="#ff0000"/>
<circle cx="162.24" cy="201.22" r="0.9" fill="#ff0000"/>
<circle cx="163.78" cy="200.78" r="0.9" fill="#ff0000"/>
<circle cx="163.58" cy="202.15" r="0.9" fill="#ff0000"/>
<circle cx="162.13" cy="202.58" r="0.9" fill="#ff0000"/>
<circle cx="163.86" cy="202.94" r="0.9" fill="#ff0000"/>
<circle cx="162.10" cy="203.67" r="0.9" fill="#ff0000"/>
<circle cx="163.50" cy="203.57" r="0.9" fill="#ff0000"/>
<circle cx="162.12" cy="204.65" r="0.9" fill="#ff0000"/>
<circle cx="164.13" cy="205.08" r="0.9" fill="#ff0000"/>
<circle cx="162.13" cy="206.11" r="0.9" fill="#ff0000"/>
<circle cx="163.92" cy="206.39" r="0.9" fill="#ff0000"/>
<circle cx="162.17" cy="206.64" r="0.9" fill="#ff0000"/>
<circle cx="163.06" cy="207.25" r="0.9" fill="#ff0000"/>
<circle cx="164.38" cy="206.56" r="0.9" fill="#ff0000"/>
<circle cx="162.08" cy="207.87" r="0.9" fill="#ff0000"/>
<circle cx="163.36" cy="208.39" r="0.9" fill="#ff0000"/>
<circle cx="163.94" cy="208.36" r="0.9" fill="#ff0000"/>
<circle cx="161.61" cy="208.92" r="0.9" fill="#ff0000"/>
<circle cx="162.71" cy="209.25" r="0.9" fill="#ff0000"/>
<circle cx="164.13" cy="209.40" r="0.9" fill="#ff0000"/>
<circle cx="161.76" cy="210.10" r="0.9" fill="#ff0000"/>
<circle cx="162.86" cy="210.28" r="0.9" fill="#ff0000"/>
<circle cx="164.14" cy="209.82" r="0.9" fill="#ff0000"/>
<circle cx="161.84" cy="211.25" r="0.9" fill="#ff0000"/>
<circle cx="163.37" cy="211.31" r="0.9" fill="#ff0000"/>
<circle cx="164.61" cy="211.22" r="0.9" fill="#ff0000"/>
<circle cx="161.31" cy="211.64" r="0.9" fill="#ff0000"/>
<circle cx="163.37" cy="211.85" r="0.9" fill="#ff0000"/>
<circle cx="164.94" cy="212.31" r="0.9" fill="#ff0000"/>
<circle cx="161.44" cy="213.05" r="0.9" fill="#ff0000"/>
<circle cx="162.94" cy="213.02" r="0.9" fill="#ff0000"/>
<circle cx="164.55" cy="213.42" r="0.9" fill="#ff0000"/>
<circle cx="161.22" cy="213.56" r="0.9" fill="#ff0000"/>
<circle cx="163.55" cy="214.22" r="0.9" fill="#ff0000"/>
<circle cx="165.21" cy="213.84" r="0.9" fill="#ff0000"/>
<circle cx="161.75" cy="214.77" r="0.9" fill="#ff0000"/>
<circle cx="163.30" cy="215.17" r="0.9" fill="#ff0000"/>
<circle cx="161.50" cy="216.31" r="0.9" fill="#ff0000"/>
<circle cx="162.74" cy="215.94" r="0.9" fill="#ff0000"/>
<circle cx="163.50" cy="215.83" r="0.9" fill="#ff0000"/>
<circle cx="165.35" cy="215.62" r="0.9" fill="#ff0000"/>
<circle cx="160.91" cy="216.57" r="0.9" fill="#ff0000"/>
<circle cx="162.20" cy="216.86" r="0.9" fill="#ff0000"/>
<circle cx="163.95" cy="216.59" r="0.9" fill="#ff0000"/>
<circle cx="165.25" cy="217.18" r="0.9" fill="#ff0000"/>
<circle cx="161.08" cy="218.08" r="0.9" fill="#ff0000"/>
<circle cx="162.85" cy="218.29" r="0.9" fill="#ff0000"/>
<circle cx="164.17" cy="218.33" r="0.9" fill="#ff0000"/>
<circle cx="160.80" cy="218.74" r="0.9" fill="#ff0000"/>
<circle cx="162.76" cy="219.31" r="0.9" fill="#ff0000"/>
<circle cx="163.94" cy="219.29" r="0.9" fill="#ff0000"/>
<circle cx="164.79" cy="218.64" r="0.9" fill="#ff0000"/>
<circle cx="160.93" cy="219.73" r="0.9" fill="#ff0000"/>
<circle cx="162.25" cy="219.57" r="0.9" fill="#ff0000"/>
<circle cx="163.72" cy="220.19" r="0.9" fill="#ff0000"/>
<circle cx="165.21" cy="220.42" r="0.9" fill="#ff0000"/>
<circle cx="160.61" cy="221.11" r="0.9" fill="#ff0000"/>
<circle cx="162.69" cy="220.94" r="0.9" fill="#ff0000"/>
<circle cx="163.89" cy="221.18" r="0.9" fill="#ff0000"/>
<circle cx="164.90" cy="221.33" r="0.9" fill="#ff0000"/>
<circle cx="160.53" cy="221.70" r="0.9" fill="#ff0000"/>
<circle cx="162.86" cy="222.24" r="0.9" fill="#ff0000"/>
<circle cx="163.87" cy="221.99" r="0.9" fill="#ff0000"/>
<circle cx="165.32" cy="221.72" r="0.9" fill="#ff0000"/>
<circle cx="160.71" cy="223.30" r="0.9" fill="#ff0000"/>
<circle cx="164.07" cy="222.74" r="0.9" fill="#ff0000"/>
<circle cx="165.50" cy="222.65" r="0.9" fill="#ff0000"/>
<circle cx="161.04" cy="224.26" r="0.9" fill="#ff0000"/>
<circle cx="162.26" cy="224.12" r="0.9" fill="#ff0000"/>
<circle cx="164.26" cy="223.91" r="0.9" fill="#ff0000"/>
<circle cx="165.01" cy="224.35" r="0.9" fill="#ff0000"/>
<circle cx="161.17" cy="224.79" r="0.9" fill="#ff0000"/>
<circle cx="162.71" cy="224.89" r="0.9" fill="#ff0000"/>
<circle cx="163.96" cy="224.96" r="0.9" fill="#ff0000"/>
<circle cx="165.62" cy="225.23" r="0.9" fill="#ff0000"/>
<circle cx="160.44" cy="225.84" r="0.9" fill="#ff0000"/>
<circle cx="162.57" cy="226.15" r="0.9" fill="#ff0000"/>
<circle cx="164.20" cy="225.94" r="0.9" fill="#ff0000"/>
<circle cx="165.52" cy="225.66" r="0.9" fill="#ff0000"/>
<circle cx="160.49" cy="226.76" r="0.9" fill="#ff0000"/>
<circle cx="162.67" cy="227.18" r="0.9" fill="#ff0000"/>
<circle cx="163.72" cy="226.69" r="0.9" fill="#ff0000"/>
<circle cx="165.22" cy="227.02" r="0.9" fill="#ff0000"/>
<circle cx="161.22" cy="227.72" r="0.9" fill="#ff0000"/>
<circle cx="162.78" cy="227.64" r="0.9" fill="#ff0000"/>
<circle cx="164.37" cy="227.90" r="0.9" fill="#ff0000"/>
<circle cx="165.45" cy="228.21" r="0.9" fill="#ff0000"/>
<circle cx="160.46" cy="229.12" r="0.9" fill="#ff0000"/>
<circle cx="161.95" cy="228.90" r="0.9" fill="#ff0000"/>
<circle cx="164.10" cy="229.26" r="0.9" fill="#ff0000"/>
<circle cx="165.45" cy="229.12" r="0.9" fill="#ff0000"/>
<circle cx="160.75" cy="230.09" r="0.9" fill="#ff0000"/>
<circle cx="162.32" cy="230.37" r="0.9" fill="#ff0000"/>
<circle cx="163.85" cy="230.22" r="0.9" fill="#ff0000"/>
<circle cx="165.81" cy="230.20" r="0.9" fill="#ff0000"/>
<circle cx="161.17" cy="231.18" r="0.9" fill="#ff0000"/>
<circle cx="162.34" cy="231.13" r="0.9" fill="#ff0000"/>
<circle cx="163.55" cy="231.12" r="0.9" fill="#ff0000"/>
<circle cx="165.63" cy="231.25" r="0.9" fill="#ff0000"/>
<circle cx="160.81" cy="231.78" r="0.9" fill="#ff0000"/>
<circle cx="162.31" cy="232.11" r="0.9" fill="#ff0000"/>
<circle cx="163.62" cy="232.39" r="0.9" fill="#ff0000"/>
<circle cx="165.32" cy="232.25" r="0.9" fill="#ff0000"/>
<circle cx="160.48" cy="233.43" r="0.9" fill="#ff0000"/>
<circle cx="162.65" cy="232.69" r="0.9" fill="#ff0000"/>
<circle cx="165.47" cy="232.64" r="0.9" fill="#ff0000"/>
<circle cx="160.93" cy="234.20" r="0.9" fill="#ff0000"/>
<circle cx="162.43" cy="234.30" r="0.9" fill="#ff0000"/>
<circle cx="163.63" cy="234.40" r="0.9" fill="#ff0000"/>
<circle cx="165.62" cy="233.90" r="0.9" fill="#ff0000"/>
<circle cx="160.81" cy="235.44" r="0.9" fill="#ff0000"/>
<circle cx="162.32" cy="234.80" r="0.9" fill="#ff0000"/>
<circle cx="163.81" cy="234.93" r="0.9" fill="#ff0000"/>
<circle cx="165.15" cy="234.87" r="0.9" fill="#ff0000"/>
<circle cx="161.36" cy="236.22" r="0.9" fill="#ff0000"/>
<circle cx="162.69" cy="235.75" r="0.9" fill="#ff0000"/>
<circle cx="163.54" cy="235.74" r="0.9" fill="#ff0000"/>
<circle cx="165.46" cy="236.28" r="0.9" fill="#ff0000"/>
<circle cx="160.74" cy="237.06" r="0.9" fill="#ff0000"/>
<circle cx="164.16" cy="237.12" r="0.9" fill="#ff0000"/>
<circle cx="165.13" cy="236.97" r="0.9" fill="#ff0000"/>
<circle cx="161.31" cy="237.66" r="0.9" fill="#ff0000"/>
<circle cx="162.23" cy="238.32" r="0.9" fill="#ff0000"/>
<circle cx="163.80" cy="237.78" r="0.9" fill="#ff0000"/>
<circle cx="165.49" cy="237.55" r="0.9" fill="#ff0000"/>
<circle cx="160.85" cy="238.77" r="0.9" fill="#ff0000"/>
<circle cx="162.57" cy="238.94" r="0.9" fill="#ff0000"/>
<circle cx="164.24" cy="238.88" r="0.9" fill="#ff0000"/>
<circle cx="165.57" cy="238.60" r="0.9" fill="#ff0000"/>
<circle cx="160.73" cy="240.26" r="0.9" fill="#ff0000"/>
<circle cx="162.01" cy="240.12" r="0.9" fill="#ff0000"/>
<circle cx="163.99" cy="240.41" r="0.9" fill="#ff0000"/>
<circle cx="164.93" cy="239.64" r="0.9" fill="#ff0000"/>
<circle cx="161.04" cy="241.25" r="0.9" fill="#ff0000"/>
<circle cx="162.75" cy="241.36" r="0.9" fill="#ff0000"/>
<circle cx="163.91" cy="241.35" r="0.9" fill="#ff0000"/>
<circle cx="165.48" cy="241.15" r="0.9" fill="#ff0000"/>
<circle cx="161.03" cy="242.30" r="0.9" fill="#ff0000"/>
<circle cx="162.75" cy="242.03" r="0.9" fill="#ff0000"/>
<circle cx="163.82" cy="242.34" r="0.9" fill="#ff0000"/>
<circle cx="164.68" cy="241.76" r="0.9" fill="#ff0000"/>
<circle cx="161.40" cy="242.60" r="0.9" fill="#ff0000"/>
<circle cx="163.15" cy="242.99" r="0.9" fill="#ff0000"/>
<circle cx="164.43" cy="243.33" r="0.9" fill="#ff0000"/>
<circle cx="161.61" cy="243.97" r="0.9" fill="#ff0000"/>
<circle cx="163.04" cy="244.31" r="0.9" fill="#ff0000"/>
<circle cx="164.37" cy="244.41" r="0.9" fill="#ff0000"/>
<circle cx="161.36" cy="245.55" r="0.9" fill="#ff0000"/>
<circle cx="163.32" cy="245.57" r="0.9" fill="#ff0000"/>
<circle cx="164.75" cy="245.69" r="0.9" fill="#ff0000"/>
<circle cx="161.51" cy="247.26" r="0.9" fill="#ff0000"/>
<circle cx="163.09" cy="247.15" r="0.9" fill="#ff0000"/>
<circle cx="164.60" cy="247.05" r="0.9" fill="#ff0000"/>
<circle cx="161.72" cy="248.81" r="0.9" fill="#ff0000"/>
<circle cx="163.17" cy="248.67" r="0.9" fill="#ff0000"/>
<circle cx="164.60" cy="248.62" r="0.9" fill="#ff0000"/>
<circle cx="163.15" cy="252.20" r="0.9" fill="#ff0000"/>
<circle cx="163.15" cy="254.40" r="0.9" fill="#ff0000"/>
<circle cx="163.15" cy="256.50" r="0.9" fill="#ff0000"/>
<circle cx="241.25" cy="170.30" r="0.9" fill="#ff0000"/>
<circle cx="241.25" cy="171.80" r="0.9" fill="#ff0000"/>
<circle cx="241.28" cy="178.22" r="0.9" fill="#ff0000"/>
<circle cx="241.02" cy="179.45" r="0.9" fill="#ff0000"/>
<circle cx="241.45" cy="181.66" r="0.9" fill="#ff0000"/>
<circle cx="241.53" cy="183.00" r="0.9" fill="#ff0000"/>
<circle cx="241.03" cy="184.66" r="0.9" fill="#ff0000"/>
<circle cx="241.09" cy="185.53" r="0.9" fill="#ff0000"/>
<circle cx="241.31" cy="186.81" r="0.9" fill="#ff0000"/>
<circle cx="241.37" cy="188.28" r="0.9" fill="#ff0000"/>
<circle cx="241.32" cy="189.93" r="0.9" fill="#ff0000"/>
<circle cx="241.47" cy="192.55" r="0.9" fill="#ff0000"/>
<circle cx="241.15" cy="193.75" r="0.9" fill="#ff0000"/>
<circle cx="241.45" cy="195.01" r="0.9" fill="#ff0000"/>
<circle cx="241.39" cy="196.12" r="0.9" fill="#ff0000"/>
<circle cx="241.31" cy="198.53" r="0.9" fill="#ff0000"/>
<circle cx="241.43" cy="200.13" r="0.9" fill="#ff0000"/>
<circle cx="241.36" cy="201.66" r="0.9" fill="#ff0000"/>
<circle cx="241.22" cy="202.52" r="0.9" fill="#ff0000"/>
<circle cx="241.02" cy="204.05" r="0.9" fill="#ff0000"/>
<circle cx="241.43" cy="205.07" r="0.9" fill="#ff0000"/>
<circle cx="241.12" cy="206.63" r="0.9" fill="#ff0000"/>
<circle cx="241.04" cy="207.83" r="0.9" fill="#ff0000"/>
<circle cx="241.43" cy="210.61" r="0.9" fill="#ff0000"/>
<circle cx="241.47" cy="211.71" r="0.9" fill="#ff0000"/>
<circle cx="241.00" cy="213.32" r="0.9" fill="#ff0000"/>
<circle cx="241.88" cy="212.91" r="0.9" fill="#ff0000"/>
<circle cx="240.80" cy="214.34" r="0.9" fill="#ff0000"/>
<circle cx="241.63" cy="214.61" r="0.9" fill="#ff0000"/>
<circle cx="241.59" cy="215.45" r="0.9" fill="#ff0000"/>
<circle cx="240.85" cy="217.24" r="0.9" fill="#ff0000"/>
<circle cx="241.62" cy="216.80" r="0.9" fill="#ff0000"/>
<circle cx="240.73" cy="218.35" r="0.9" fill="#ff0000"/>
<circle cx="241.75" cy="218.00" r="0.9" fill="#ff0000"/>
<circle cx="240.77" cy="219.31" r="0.9" fill="#ff0000"/>
<circle cx="240.89" cy="220.69" r="0.9" fill="#ff0000"/>
<circle cx="241.71" cy="220.76" r="0.9" fill="#ff0000"/>
<circle cx="240.80" cy="222.24" r="0.9" fill="#ff0000"/>
<circle cx="241.89" cy="223.54" r="0.9" fill="#ff0000"/>
<circle cx="241.81" cy="224.88" r="0.9" fill="#ff0000"/>
<circle cx="240.94" cy="225.97" r="0.9" fill="#ff0000"/>
<circle cx="241.90" cy="227.28" r="0.9" fill="#ff0000"/>
<circle cx="240.84" cy="228.71" r="0.9" fill="#ff0000"/>
<circle cx="241.69" cy="228.73" r="0.9" fill="#ff0000"/>
<circle cx="240.65" cy="229.90" r="0.9" fill="#ff0000"/>
<circle cx="240.59" cy="231.22" r="0.9" fill="#ff0000"/>
<circle cx="241.54" cy="231.21" r="0.9" fill="#ff0000"/>
<circle cx="240.71" cy="232.82" r="0.9" fill="#ff0000"/>
<circle cx="241.64" cy="232.64" r="0.9" fill="#ff0000"/>
<circle cx="240.62" cy="233.64" r="0.9" fill="#ff0000"/>
<circle cx="241.79" cy="234.04" r="0.9" fill="#ff0000"/>
<circle cx="241.82" cy="235.45" r="0.9" fill="#ff0000"/>
<circle cx="240.77" cy="236.31" r="0.9" fill="#ff0000"/>
<circle cx="240.68" cy="237.96" r="0.9" fill="#ff0000"/>
<circle cx="240.96" cy="239.09" r="0.9" fill="#ff0000"/>
<circle cx="241.50" cy="238.95" r="0.9" fill="#ff0000"/>
<circle cx="240.83" cy="240.26" r="0.9" fill="#ff0000"/>
<circle cx="241.61" cy="240.34" r="0.9" fill="#ff0000"/>
<circle cx="240.80" cy="241.92" r="0.9" fill="#ff0000"/>
<circle cx="242.07" cy="241.84" r="0.9" fill="#ff0000"/>
<circle cx="240.89" cy="242.75" r="0.9" fill="#ff0000"/>
<circle cx="240.51" cy="244.08" r="0.9" fill="#ff0000"/>
<circle cx="241.89" cy="244.53" r="0.9" fill="#ff0000"/>
<circle cx="241.96" cy="245.50" r="0.9" fill="#ff0000"/>
<circle cx="240.79" cy="246.84" r="0.9" fill="#ff0000"/>
<circle cx="241.76" cy="246.63" r="0.9" fill="#ff0000"/>
<circle cx="240.58" cy="248.28" r="0.9" fill="#ff0000"/>
<circle cx="241.67" cy="248.26" r="0.9" fill="#ff0000"/>
<circle cx="240.93" cy="249.21" r="0.9" fill="#ff0000"/>
<circle cx="241.56" cy="249.79" r="0.9" fill="#ff0000"/>
<circle cx="240.57" cy="250.93" r="0.9" fill="#ff0000"/>
<circle cx="241.61" cy="250.59" r="0.9" fill="#ff0000"/>
<circle cx="240.86" cy="251.85" r="0.9" fill="#ff0000"/>
<circle cx="241.89" cy="252.12" r="0.9" fill="#ff0000"/>
<circle cx="240.72" cy="253.49" r="0.9" fill="#ff0000"/>
<circle cx="241.69" cy="253.54" r="0.9" fill="#ff0000"/>
<circle cx="240.82" cy="254.86" r="0.9" fill="#ff0000"/>
<circle cx="242.13" cy="254.86" r="0.9" fill="#ff0000"/>
<circle cx="240.67" cy="255.87" r="0.9" fill="#ff0000"/>
<circle cx="319.85" cy="81.00" r="0.9" fill="#ff0000"/>
<circle cx="319.05" cy="83.40" r="0.9" fill="#ff0000"/>
<circle cx="319.35" cy="86.00" r="0.9" fill="#ff0000"/>
<circle cx="319.35" cy="108.20" r="0.9" fill="#ff0000"/>
<circle cx="319.35" cy="113.10" r="0.9" fill="#ff0000"/>
<circle cx="319.35" cy="132.70" r="0.9" fill="#ff0000"/>
<circle cx="319.75" cy="136.27" r="0.9" fill="#ff0000"/>
<circle cx="319.15" cy="136.77" r="0.9" fill="#ff0000"/>
<circle cx="318.72" cy="137.52" r="0.9" fill="#ff0000"/>
<circle cx="319.62" cy="138.24" r="0.9" fill="#ff0000"/>
<circle cx="319.15" cy="139.07" r="0.9" fill="#ff0000"/>
<circle cx="319.55" cy="138.88" r="0.9" fill="#ff0000"/>
<circle cx="318.83" cy="139.65" r="0.9" fill="#ff0000"/>
<circle cx="320.34" cy="139.83" r="0.9" fill="#ff0000"/>
<circle cx="318.74" cy="140.77" r="0.9" fill="#ff0000"/>
<circle cx="320.00" cy="141.10" r="0.9" fill="#ff0000"/>
<circle cx="318.89" cy="141.85" r="0.9" fill="#ff0000"/>
<circle cx="320.01" cy="141.47" r="0.9" fill="#ff0000"/>
<circle cx="318.22" cy="142.26" r="0.9" fill="#ff0000"/>
<circle cx="320.03" cy="143.04" r="0.9" fill="#ff0000"/>
<circle cx="318.46" cy="143.75" r="0.9" fill="#ff0000"/>
<circle cx="319.15" cy="143.80" r="0.9" fill="#ff0000"/>
<circle cx="320.55" cy="143.22" r="0.9" fill="#ff0000"/>
<circle cx="318.57" cy="144.36" r="0.9" fill="#ff0000"/>
<circle cx="319.47" cy="144.62" r="0.9" fill="#ff0000"/>
<circle cx="320.34" cy="144.71" r="0.9" fill="#ff0000"/>
<circle cx="317.68" cy="145.15" r="0.9" fill="#ff0000"/>
<circle cx="319.04" cy="145.21" r="0.9" fill="#ff0000"/>
<circle cx="320.78" cy="145.88" r="0.9" fill="#ff0000"/>
<circle cx="317.66" cy="146.67" r="0.9" fill="#ff0000"/>
<circle cx="319.28" cy="146.29" r="0.9" fill="#ff0000"/>
<circle cx="320.96" cy="146.41" r="0.9" fill="#ff0000"/>
<circle cx="317.64" cy="147.75" r="0.9" fill="#ff0000"/>
<circle cx="319.61" cy="147.02" r="0.9" fill="#ff0000"/>
<circle cx="321.18" cy="147.68" r="0.9" fill="#ff0000"/>
<circle cx="317.22" cy="148.17" r="0.9" fill="#ff0000"/>
<circle cx="318.50" cy="148.67" r="0.9" fill="#ff0000"/>
<circle cx="320.06" cy="148.42" r="0.9" fill="#ff0000"/>
<circle cx="320.76" cy="148.06" r="0.9" fill="#ff0000"/>
<circle cx="318.78" cy="149.42" r="0.9" fill="#ff0000"/>
<circle cx="319.59" cy="148.95" r="0.9" fill="#ff0000"/>
<circle cx="321.61" cy="149.00" r="0.9" fill="#ff0000"/>
<circle cx="317.06" cy="150.43" r="0.9" fill="#ff0000"/>
<circle cx="318.58" cy="150.05" r="0.9" fill="#ff0000"/>
<circle cx="319.81" cy="149.94" r="0.9" fill="#ff0000"/>
<circle cx="321.25" cy="150.08" r="0.9" fill="#ff0000"/>
<circle cx="317.11" cy="150.98" r="0.9" fill="#ff0000"/>
<circle cx="318.58" cy="151.11" r="0.9" fill="#ff0000"/>
<circle cx="320.31" cy="151.18" r="0.9" fill="#ff0000"/>
<circle cx="321.61" cy="151.33" r="0.9" fill="#ff0000"/>
<circle cx="317.31" cy="151.77" r="0.9" fill="#ff0000"/>
<circle cx="318.86" cy="152.12" r="0.9" fill="#ff0000"/>
<circle cx="320.00" cy="151.84" r="0.9" fill="#ff0000"/>
<circle cx="321.29" cy="151.93" r="0.9" fill="#ff0000"/>
<circle cx="317.25" cy="152.75" r="0.9" fill="#ff0000"/>
<circle cx="318.73" cy="153.45" r="0.9" fill="#ff0000"/>
<circle cx="320.21" cy="152.88" r="0.9" fill="#ff0000"/>
<circle cx="321.71" cy="153.40" r="0.9" fill="#ff0000"/>
<circle cx="317.72" cy="153.74" r="0.9" fill="#ff0000"/>
<circle cx="318.43" cy="153.84" r="0.9" fill="#ff0000"/>
<circle cx="319.68" cy="153.82" r="0.9" fill="#ff0000"/>
<circle cx="321.30" cy="154.39" r="0.9" fill="#ff0000"/>
<circle cx="317.33" cy="154.66" r="0.9" fill="#ff0000"/>
<circle cx="318.82" cy="154.76" r="0.9" fill="#ff0000"/>
<circle cx="320.40" cy="154.70" r="0.9" fill="#ff0000"/>
<circle cx="320.94" cy="154.74" r="0.9" fill="#ff0000"/>
<circle cx="316.99" cy="155.96" r="0.9" fill="#ff0000"/>
<circle cx="318.72" cy="156.14" r="0.9" fill="#ff0000"/>
<circle cx="320.09" cy="155.95" r="0.9" fill="#ff0000"/>
<circle cx="321.57" cy="155.67" r="0.9" fill="#ff0000"/>
<circle cx="317.66" cy="157.09" r="0.9" fill="#ff0000"/>
<circle cx="318.44" cy="157.22" r="0.9" fill="#ff0000"/>
<circle cx="320.33" cy="156.98" r="0.9" fill="#ff0000"/>
<circle cx="320.95" cy="156.67" r="0.9" fill="#ff0000"/>
<circle cx="317.13" cy="157.56" r="0.9" fill="#ff0000"/>
<circle cx="319.05" cy="157.92" r="0.9" fill="#ff0000"/>
<circle cx="319.62" cy="157.99" r="0.9" fill="#ff0000"/>
<circle cx="321.30" cy="157.64" r="0.9" fill="#ff0000"/>
<circle cx="317.38" cy="159.16" r="0.9" fill="#ff0000"/>
<circle cx="320.27" cy="158.57" r="0.9" fill="#ff0000"/>
<circle cx="321.28" cy="159.20" r="0.9" fill="#ff0000"/>
<circle cx="317.25" cy="160.12" r="0.9" fill="#ff0000"/>
<circle cx="318.83" cy="159.62" r="0.9" fill="#ff0000"/>
<circle cx="319.73" cy="159.65" r="0.9" fill="#ff0000"/>
<circle cx="321.40" cy="159.35" r="0.9" fill="#ff0000"/>
<circle cx="317.44" cy="160.66" r="0.9" fill="#ff0000"/>
<circle cx="318.49" cy="160.41" r="0.9" fill="#ff0000"/>
<circle cx="319.72" cy="161.07" r="0.9" fill="#ff0000"/>
<circle cx="321.37" cy="160.72" r="0.9" fill="#ff0000"/>
<circle cx="317.18" cy="161.30" r="0.9" fill="#ff0000"/>
<circle cx="318.66" cy="161.72" r="0.9" fill="#ff0000"/>
<circle cx="320.13" cy="161.96" r="0.9" fill="#ff0000"/>
<circle cx="321.12" cy="162.02" r="0.9" fill="#ff0000"/>
<circle cx="317.04" cy="162.53" r="0.9" fill="#ff0000"/>
<circle cx="318.31" cy="162.28" r="0.9" fill="#ff0000"/>
<circle cx="320.37" cy="162.43" r="0.9" fill="#ff0000"/>
<circle cx="321.32" cy="162.54" r="0.9" fill="#ff0000"/>
<circle cx="317.53" cy="163.80" r="0.9" fill="#ff0000"/>
<circle cx="318.50" cy="163.24" r="0.9" fill="#ff0000"/>
<circle cx="320.24" cy="163.62" r="0.9" fill="#ff0000"/>
<circle cx="321.05" cy="163.92" r="0.9" fill="#ff0000"/>
<circle cx="317.46" cy="164.82" r="0.9" fill="#ff0000"/>
<circle cx="318.51" cy="164.65" r="0.9" fill="#ff0000"/>
<circle cx="320.02" cy="164.39" r="0.9" fill="#ff0000"/>
<circle cx="321.49" cy="164.16" r="0.9" fill="#ff0000"/>
<circle cx="317.55" cy="165.43" r="0.9" fill="#ff0000"/>
<circle cx="318.68" cy="165.06" r="0.9" fill="#ff0000"/>
<circle cx="320.11" cy="165.62" r="0.9" fill="#ff0000"/>
<circle cx="321.52" cy="165.82" r="0.9" fill="#ff0000"/>
<circle cx="317.78" cy="166.34" r="0.9" fill="#ff0000"/>
<circle cx="319.07" cy="166.33" r="0.9" fill="#ff0000"/>
<circle cx="320.18" cy="166.19" r="0.9" fill="#ff0000"/>
<circle cx="321.50" cy="166.53" r="0.9" fill="#ff0000"/>
<circle cx="317.19" cy="167.13" r="0.9" fill="#ff0000"/>
<circle cx="318.42" cy="166.98" r="0.9" fill="#ff0000"/>
<circle cx="319.66" cy="167.29" r="0.9" fill="#ff0000"/>
<circle cx="321.34" cy="167.70" r="0.9" fill="#ff0000"/>
<circle cx="317.37" cy="168.46" r="0.9" fill="#ff0000"/>
<circle cx="318.32" cy="168.29" r="0.9" fill="#ff0000"/>
<circle cx="319.89" cy="168.03" r="0.9" fill="#ff0000"/>
<circle cx="317.54" cy="169.52" r="0.9" fill="#ff0000"/>
<circle cx="319.08" cy="169.41" r="0.9" fill="#ff0000"/>
<circle cx="319.83" cy="169.46" r="0.9" fill="#ff0000"/>
<circle cx="321.35" cy="169.51" r="0.9" fill="#ff0000"/>
<circle cx="317.50" cy="170.50" r="0.9" fill="#ff0000"/>
<circle cx="318.74" cy="169.81" r="0.9" fill="#ff0000"/>
<circle cx="319.65" cy="170.02" r="0.9" fill="#ff0000"/>
<circle cx="321.43" cy="169.94" r="0.9" fill="#ff0000"/>
<circle cx="317.25" cy="170.93" r="0.9" fill="#ff0000"/>
<circle cx="318.33" cy="171.54" r="0.9" fill="#ff0000"/>
<circle cx="320.36" cy="171.50" r="0.9" fill="#ff0000"/>
<circle cx="321.28" cy="171.02" r="0.9" fill="#ff0000"/>
<circle cx="317.42" cy="172.03" r="0.9" fill="#ff0000"/>
<circle cx="318.38" cy="171.74" r="0.9" fill="#ff0000"/>
<circle cx="320.09" cy="171.77" r="0.9" fill="#ff0000"/>
<circle cx="321.49" cy="171.91" r="0.9" fill="#ff0000"/>
<circle cx="317.44" cy="172.92" r="0.9" fill="#ff0000"/>
<circle cx="318.76" cy="173.39" r="0.9" fill="#ff0000"/>
<circle cx="320.14" cy="172.77" r="0.9" fill="#ff0000"/>
<circle cx="321.04" cy="173.22" r="0.9" fill="#ff0000"/>
<circle cx="317.12" cy="174.24" r="0.9" fill="#ff0000"/>
<circle cx="318.88" cy="173.75" r="0.9" fill="#ff0000"/>
<circle cx="319.77" cy="174.23" r="0.9" fill="#ff0000"/>
<circle cx="321.31" cy="174.13" r="0.9" fill="#ff0000"/>
<circle cx="317.52" cy="174.70" r="0.9" fill="#ff0000"/>
<circle cx="318.51" cy="175.06" r="0.9" fill="#ff0000"/>
<circle cx="320.01" cy="174.89" r="0.9" fill="#ff0000"/>
<circle cx="321.43" cy="174.57" r="0.9" fill="#ff0000"/>
<circle cx="317.60" cy="175.73" r="0.9" fill="#ff0000"/>
<circle cx="319.05" cy="175.99" r="0.9" fill="#ff0000"/>
<circle cx="320.10" cy="175.75" r="0.9" fill="#ff0000"/>
<circle cx="321.00" cy="175.63" r="0.9" fill="#ff0000"/>
<circle cx="317.69" cy="177.11" r="0.9" fill="#ff0000"/>
<circle cx="318.59" cy="177.09" r="0.9" fill="#ff0000"/>
<circle cx="319.60" cy="177.03" r="0.9" fill="#ff0000"/>
<circle cx="320.82" cy="176.52" r="0.9" fill="#ff0000"/>
<circle cx="317.90" cy="177.52" r="0.9" fill="#ff0000"/>
<circle cx="318.51" cy="177.77" r="0.9" fill="#ff0000"/>
<circle cx="319.96" cy="177.81" r="0.9" fill="#ff0000"/>
<circle cx="321.17" cy="177.97" r="0.9" fill="#ff0000"/>
<circle cx="317.25" cy="178.43" r="0.9" fill="#ff0000"/>
<circle cx="318.57" cy="178.74" r="0.9" fill="#ff0000"/>
<circle cx="319.79" cy="178.53" r="0.9" fill="#ff0000"/>
<circle cx="321.32" cy="178.92" r="0.9" fill="#ff0000"/>
<circle cx="317.97" cy="179.66" r="0.9" fill="#ff0000"/>
<circle cx="318.46" cy="179.79" r="0.9" fill="#ff0000"/>
<circle cx="319.75" cy="179.81" r="0.9" fill="#ff0000"/>
<circle cx="321.40" cy="180.08" r="0.9" fill="#ff0000"/>
<circle cx="317.76" cy="180.62" r="0.9" fill="#ff0000"/>
<circle cx="318.99" cy="180.30" r="0.9" fill="#ff0000"/>
<circle cx="319.58" cy="180.60" r="0.9" fill="#ff0000"/>
<circle cx="321.40" cy="180.33" r="0.9" fill="#ff0000"/>
<circle cx="317.92" cy="181.43" r="0.9" fill="#ff0000"/>
<circle cx="318.46" cy="181.29" r="0.9" fill="#ff0000"/>
<circle cx="320.17" cy="181.63" r="0.9" fill="#ff0000"/>
<circle cx="321.21" cy="181.34" r="0.9" fill="#ff0000"/>
<circle cx="317.44" cy="182.42" r="0.9" fill="#ff0000"/>
<circle cx="319.04" cy="182.93" r="0.9" fill="#ff0000"/>
<circle cx="321.27" cy="182.74" r="0.9" fill="#ff0000"/>
<circle cx="318.14" cy="183.48" r="0.9" fill="#ff0000"/>
<circle cx="319.32" cy="183.33" r="0.9" fill="#ff0000"/>
<circle cx="320.63" cy="183.69" r="0.9" fill="#ff0000"/>
<circle cx="317.50" cy="184.82" r="0.9" fill="#ff0000"/>
<circle cx="319.15" cy="184.32" r="0.9" fill="#ff0000"/>
<circle cx="321.28" cy="184.43" r="0.9" fill="#ff0000"/>
<circle cx="317.71" cy="185.68" r="0.9" fill="#ff0000"/>
<circle cx="319.22" cy="185.60" r="0.9" fill="#ff0000"/>
<circle cx="321.11" cy="185.33" r="0.9" fill="#ff0000"/>
<circle cx="317.49" cy="186.41" r="0.9" fill="#ff0000"/>
<circle cx="319.67" cy="186.44" r="0.9" fill="#ff0000"/>
<circle cx="321.09" cy="186.21" r="0.9" fill="#ff0000"/>
<circle cx="317.82" cy="187.11" r="0.9" fill="#ff0000"/>
<circle cx="319.25" cy="187.18" r="0.9" fill="#ff0000"/>
<circle cx="321.10" cy="187.08" r="0.9" fill="#ff0000"/>
<circle cx="318.28" cy="188.36" r="0.9" fill="#ff0000"/>
<circle cx="319.69" cy="188.05" r="0.9" fill="#ff0000"/>
<circle cx="320.91" cy="188.64" r="0.9" fill="#ff0000"/>
<circle cx="317.87" cy="189.45" r="0.9" fill="#ff0000"/>
<circle cx="319.62" cy="189.10" r="0.9" fill="#ff0000"/>
<circle cx="320.50" cy="189.23" r="0.9" fill="#ff0000"/>
<circle cx="318.44" cy="190.03" r="0.9" fill="#ff0000"/>
<circle cx="319.06" cy="190.45" r="0.9" fill="#ff0000"/>
<circle cx="320.68" cy="190.35" r="0.9" fill="#ff0000"/>
<circle cx="318.56" cy="190.74" r="0.9" fill="#ff0000"/>
<circle cx="319.22" cy="191.06" r="0.9" fill="#ff0000"/>
<circle cx="320.74" cy="191.33" r="0.9" fill="#ff0000"/>
<circle cx="318.15" cy="191.92" r="0.9" fill="#ff0000"/>
<circle cx="318.97" cy="191.91" r="0.9" fill="#ff0000"/>
<circle cx="320.00" cy="191.83" r="0.9" fill="#ff0000"/>
<circle cx="318.21" cy="193.19" r="0.9" fill="#ff0000"/>
<circle cx="320.49" cy="192.92" r="0.9" fill="#ff0000"/>
<circle cx="318.65" cy="193.80" r="0.9" fill="#ff0000"/>
<circle cx="320.47" cy="193.93" r="0.9" fill="#ff0000"/>
<circle cx="318.94" cy="194.75" r="0.9" fill="#ff0000"/>
<circle cx="320.13" cy="194.58" r="0.9" fill="#ff0000"/>
<circle cx="318.72" cy="195.86" r="0.9" fill="#ff0000"/>
<circle cx="320.10" cy="196.15" r="0.9" fill="#ff0000"/>
<circle cx="318.68" cy="196.69" r="0.9" fill="#ff0000"/>
<circle cx="319.61" cy="196.96" r="0.9" fill="#ff0000"/>
<circle cx="318.91" cy="197.38" r="0.9" fill="#ff0000"/>
<circle cx="319.81" cy="197.92" r="0.9" fill="#ff0000"/>
<circle cx="319.14" cy="198.72" r="0.9" fill="#ff0000"/>
<circle cx="319.59" cy="198.59" r="0.9" fill="#ff0000"/>
<circle cx="318.71" cy="199.89" r="0.9" fill="#ff0000"/>
<circle cx="319.71" cy="200.04" r="0.9" fill="#ff0000"/>
<circle cx="319.65" cy="201.15" r="0.9" fill="#ff0000"/>
<circle cx="319.23" cy="202.11" r="0.9" fill="#ff0000"/>
<circle cx="319.38" cy="203.28" r="0.9" fill="#ff0000"/>
<circle cx="319.10" cy="204.87" r="0.9" fill="#ff0000"/>
<circle cx="319.13" cy="208.71" r="0.9" fill="#ff0000"/>
<circle cx="319.61" cy="211.18" r="0.9" fill="#ff0000"/>
<circle cx="319.15" cy="212.55" r="0.9" fill="#ff0000"/>
<circle cx="319.63" cy="213.50" r="0.9" fill="#ff0000"/>
<circle cx="319.39" cy="217.55" r="0.9" fill="#ff0000"/>
<circle cx="319.56" cy="218.59" r="0.9" fill="#ff0000"/>
<circle cx="319.18" cy="219.82" r="0.9" fill="#ff0000"/>
<circle cx="319.36" cy="220.94" r="0.9" fill="#ff0000"/>
<circle cx="319.00" cy="221.96" r="0.9" fill="#ff0000"/>
<circle cx="319.52" cy="223.65" r="0.9" fill="#ff0000"/>
<circle cx="319.36" cy="224.58" r="0.9" fill="#ff0000"/>
<circle cx="319.63" cy="226.07" r="0.9" fill="#ff0000"/>
<circle cx="319.50" cy="227.31" r="0.9" fill="#ff0000"/>
<circle cx="319.50" cy="228.65" r="0.9" fill="#ff0000"/>
<circle cx="319.65" cy="229.99" r="0.9" fill="#ff0000"/>
<circle cx="319.31" cy="231.31" r="0.9" fill="#ff0000"/>
<circle cx="319.56" cy="231.95" r="0.9" fill="#ff0000"/>
<circle cx="319.32" cy="233.25" r="0.9" fill="#ff0000"/>
<circle cx="319.24" cy="235.10" r="0.9" fill="#ff0000"/>
<circle cx="319.14" cy="235.82" r="0.9" fill="#ff0000"/>
<circle cx="319.43" cy="237.19" r="0.9" fill="#ff0000"/>
<circle cx="319.15" cy="238.26" r="0.9" fill="#ff0000"/>
<circle cx="319.22" cy="239.54" r="0.9" fill="#ff0000"/>
<circle cx="319.34" cy="240.78" r="0.9" fill="#ff0000"/>
<circle cx="319.35" cy="249.50" r="0.9" fill="#ff0000"/>
<circle cx="319.35" cy="251.20" r="0.9" fill="#ff0000"/>
<circle cx="100.70" cy="237.20" r="0.9" fill="#0000ff"/>
<circle cx="100.70" cy="239.70" r="0.9" fill="#0000ff"/>
<circle cx="100.70" cy="242.20" r="0.9" fill="#0000ff"/>
<circle cx="100.70" cy="244.70" r="0.9" fill="#0000ff"/>
<circle cx="100.70" cy="247.20" r="0.9" fill="#0000ff"/>
<circle cx="100.70" cy="249.70" r="0.9" fill="#0000ff"/>
<circle cx="100.70" cy="252.20" r="0.9" fill="#0000ff"/>
<circle cx="100.70" cy="254.70" r="0.9" fill="#0000ff"/>
<circle cx="178.80" cy="160.20" r="0.9" fill="#0000ff"/>
<circle cx="178.80" cy="171.20" r="0.9" fill="#0000ff"/>
<circle cx="178.80" cy="192.50" r="0.9" fill="#0000ff"/>
<circle cx="178.80" cy="194.50" r="0.9" fill="#0000ff"/>
<circle cx="178.80" cy="197.00" r="0.9" fill="#0000ff"/>
<circle cx="178.19" cy="198.00" r="0.9" fill="#0000ff"/>
<circle cx="179.38" cy="198.24" r="0.9" fill="#0000ff"/>
<circle cx="178.21" cy="198.92" r="0.9" fill="#0000ff"/>
<circle cx="179.37" cy="199.04" r="0.9" fill="#0000ff"/>
<circle cx="178.41" cy="199.77" r="0.9" fill="#0000ff"/>
<circle cx="179.07" cy="200.02" r="0.9" fill="#0000ff"/>
<circle cx="178.14" cy="200.75" r="0.9" fill="#0000ff"/>
<circle cx="179.38" cy="201.05" r="0.9" fill="#0000ff"/>
<circle cx="178.36" cy="202.20" r="0.9" fill="#0000ff"/>
<circle cx="179.40" cy="202.06" r="0.9" fill="#0000ff"/>
<circle cx="178.16" cy="203.09" r="0.9" fill="#0000ff"/>
<circle cx="179.43" cy="202.98" r="0.9" fill="#0000ff"/>
<circle cx="178.07" cy="203.84" r="0.9" fill="#0000ff"/>
<circle cx="179.38" cy="204.21" r="0.9" fill="#0000ff"/>
<circle cx="178.44" cy="205.16" r="0.9" fill="#0000ff"/>
<circle cx="179.20" cy="204.88" r="0.9" fill="#0000ff"/>
<circle cx="178.27" cy="205.91" r="0.9" fill="#0000ff"/>
<circle cx="179.08" cy="206.22" r="0.9" fill="#0000ff"/>
<circle cx="178.11" cy="206.77" r="0.9" fill="#0000ff"/>
<circle cx="179.51" cy="207.04" r="0.9" fill="#0000ff"/>
<circle cx="178.24" cy="207.76" r="0.9" fill="#0000ff"/>
<circle cx="179.54" cy="208.22" r="0.9" fill="#0000ff"/>
<circle cx="178.10" cy="208.96" r="0.9" fill="#0000ff"/>
<circle cx="179.13" cy="208.86" r="0.9" fill="#0000ff"/>
<circle cx="178.39" cy="209.75" r="0.9" fill="#0000ff"/>
<circle cx="179.09" cy="210.23" r="0.9" fill="#0000ff"/>
<circle cx="178.06" cy="210.81" r="0.9" fill="#0000ff"/>
<circle cx="179.42" cy="210.87" r="0.9" fill="#0000ff"/>
<circle cx="178.44" cy="211.78" r="0.9" fill="#0000ff"/>
<circle cx="179.41" cy="212.18" r="0.9" fill="#0000ff"/>
<circle cx="178.40" cy="213.06" r="0.9" fill="#0000ff"/>
<circle cx="179.18" cy="213.22" r="0.9" fill="#0000ff"/>
<circle cx="179.06" cy="213.76" r="0.9" fill="#0000ff"/>
<circle cx="178.09" cy="215.16" r="0.9" fill="#0000ff"/>
<circle cx="179.13" cy="215.11" r="0.9" fill="#0000ff"/>
<circle cx="178.08" cy="215.99" r="0.9" fill="#0000ff"/>
<circle cx="179.27" cy="216.04" r="0.9" fill="#0000ff"/>
<circle cx="178.45" cy="216.82" r="0.9" fill="#0000ff"/>
<circle cx="179.36" cy="217.07" r="0.9" fill="#0000ff"/>
<circle cx="178.44" cy="217.94" r="0.9" fill="#0000ff"/>
<circle cx="179.33" cy="218.14" r="0.9" fill="#0000ff"/>
<circle cx="178.54" cy="218.78" r="0.9" fill="#0000ff"/>
<circle cx="179.22" cy="219.16" r="0.9" fill="#0000ff"/>
<circle cx="178.47" cy="220.24" r="0.9" fill="#0000ff"/>
<circle cx="179.26" cy="219.90" r="0.9" fill="#0000ff"/>
<circle cx="178.39" cy="220.94" r="0.9" fill="#0000ff"/>
<circle cx="179.45" cy="221.20" r="0.9" fill="#0000ff"/>
<circle cx="178.18" cy="221.75" r="0.9" fill="#0000ff"/>
<circle cx="179.46" cy="222.04" r="0.9" fill="#0000ff"/>
<circle cx="178.47" cy="222.77" r="0.9" fill="#0000ff"/>
<circle cx="179.34" cy="223.18" r="0.9" fill="#0000ff"/>
<circle cx="178.45" cy="224.18" r="0.9" fill="#0000ff"/>
<circle cx="179.22" cy="224.21" r="0.9" fill="#0000ff"/>
<circle cx="178.45" cy="225.03" r="0.9" fill="#0000ff"/>
<circle cx="179.52" cy="225.13" r="0.9" fill="#0000ff"/>
<circle cx="178.39" cy="226.05" r="0.9" fill="#0000ff"/>
<circle cx="179.18" cy="225.85" r="0.9" fill="#0000ff"/>
<circle cx="178.28" cy="227.15" r="0.9" fill="#0000ff"/>
<circle cx="179.44" cy="227.15" r="0.9" fill="#0000ff"/>
<circle cx="178.50" cy="228.04" r="0.9" fill="#0000ff"/>
<circle cx="179.29" cy="228.01" r="0.9" fill="#0000ff"/>
<circle cx="178.15" cy="228.84" r="0.9" fill="#0000ff"/>
<circle cx="179.23" cy="229.10" r="0.9" fill="#0000ff"/>
<circle cx="178.31" cy="229.95" r="0.9" fill="#0000ff"/>
<circle cx="179.55" cy="229.77" r="0.9" fill="#0000ff"/>
<circle cx="178.37" cy="230.80" r="0.9" fill="#0000ff"/>
<circle cx="179.35" cy="230.83" r="0.9" fill="#0000ff"/>
<circle cx="178.06" cy="232.01" r="0.9" fill="#0000ff"/>
<circle cx="179.48" cy="232.25" r="0.9" fill="#0000ff"/>
<circle cx="178.18" cy="233.03" r="0.9" fill="#0000ff"/>
<circle cx="179.52" cy="232.96" r="0.9" fill="#0000ff"/>
<circle cx="178.53" cy="234.16" r="0.9" fill="#0000ff"/>
<circle cx="179.15" cy="233.77" r="0.9" fill="#0000ff"/>
<circle cx="178.08" cy="234.79" r="0.9" fill="#0000ff"/>
<circle cx="179.28" cy="235.19" r="0.9" fill="#0000ff"/>
<circle cx="178.08" cy="236.20" r="0.9" fill="#0000ff"/>
<circle cx="179.11" cy="235.95" r="0.9" fill="#0000ff"/>
<circle cx="179.37" cy="237.03" r="0.9" fill="#0000ff"/>
<circle cx="179.27" cy="237.95" r="0.9" fill="#0000ff"/>
<circle cx="178.55" cy="239.23" r="0.9" fill="#0000ff"/>
<circle cx="179.18" cy="238.77" r="0.9" fill="#0000ff"/>
<circle cx="178.50" cy="240.20" r="0.9" fill="#0000ff"/>
<circle cx="179.44" cy="239.77" r="0.9" fill="#0000ff"/>
<circle cx="178.54" cy="241.07" r="0.9" fill="#0000ff"/>
<circle cx="179.43" cy="240.82" r="0.9" fill="#0000ff"/>
<circle cx="178.20" cy="242.09" r="0.9" fill="#0000ff"/>
<circle cx="179.10" cy="242.13" r="0.9" fill="#0000ff"/>
<circle cx="178.11" cy="242.88" r="0.9" fill="#0000ff"/>
<circle cx="179.17" cy="242.83" r="0.9" fill="#0000ff"/>
<circle cx="178.06" cy="244.09" r="0.9" fill="#0000ff"/>
<circle cx="179.07" cy="243.85" r="0.9" fill="#0000ff"/>
<circle cx="178.52" cy="244.86" r="0.9" fill="#0000ff"/>
<circle cx="179.12" cy="245.19" r="0.9" fill="#0000ff"/>
<circle cx="178.51" cy="245.80" r="0.9" fill="#0000ff"/>
<circle cx="179.28" cy="246.06" r="0.9" fill="#0000ff"/>
<circle cx="178.29" cy="247.16" r="0.9" fill="#0000ff"/>
<circle cx="179.16" cy="246.82" r="0.9" fill="#0000ff"/>
<circle cx="178.33" cy="248.11" r="0.9" fill="#0000ff"/>
<circle cx="179.18" cy="248.19" r="0.9" fill="#0000ff"/>
<circle cx="178.19" cy="248.83" r="0.9" fill="#0000ff"/>
<circle cx="179.13" cy="248.92" r="0.9" fill="#0000ff"/>
<circle cx="178.50" cy="249.91" r="0.9" fill="#0000ff"/>
<circle cx="179.08" cy="250.24" r="0.9" fill="#0000ff"/>
<circle cx="178.16" cy="251.08" r="0.9" fill="#0000ff"/>
<circle cx="179.18" cy="250.89" r="0.9" fill="#0000ff"/>
<circle cx="178.55" cy="251.93" r="0.9" fill="#0000ff"/>
<circle cx="178.19" cy="252.80" r="0.9" fill="#0000ff"/>
<circle cx="179.41" cy="252.78" r="0.9" fill="#0000ff"/>
<circle cx="178.06" cy="254.24" r="0.9" fill="#0000ff"/>
<circle cx="179.12" cy="253.92" r="0.9" fill="#0000ff"/>
<circle cx="178.31" cy="255.17" r="0.9" fill="#0000ff"/>
<circle cx="179.51" cy="254.97" r="0.9" fill="#0000ff"/>
<circle cx="178.12" cy="256.04" r="0.9" fill="#0000ff"/>
<circle cx="179.41" cy="256.14" r="0.9" fill="#0000ff"/>
<circle cx="256.90" cy="185.30" r="0.9" fill="#0000ff"/>
<circle cx="256.90" cy="195.50" r="0.9" fill="#0000ff"/>
<circle cx="256.90" cy="197.50" r="0.9" fill="#0000ff"/>
<circle cx="256.90" cy="199.50" r="0.9" fill="#0000ff"/>
<circle cx="256.90" cy="201.50" r="0.9" fill="#0000ff"/>
<circle cx="256.89" cy="206.71" r="0.9" fill="#0000ff"/>
<circle cx="256.82" cy="208.36" r="0.9" fill="#0000ff"/>
<circle cx="256.65" cy="210.75" r="0.9" fill="#0000ff"/>
<circle cx="256.64" cy="211.58" r="0.9" fill="#0000ff"/>
<circle cx="256.71" cy="213.03" r="0.9" fill="#0000ff"/>
<circle cx="256.71" cy="215.19" r="0.9" fill="#0000ff"/>
<circle cx="256.70" cy="216.85" r="0.9" fill="#0000ff"/>
<circle cx="256.75" cy="217.97" r="0.9" fill="#0000ff"/>
<circle cx="256.38" cy="220.28" r="0.9" fill="#0000ff"/>
<circle cx="257.22" cy="220.18" r="0.9" fill="#0000ff"/>
<circle cx="256.61" cy="221.16" r="0.9" fill="#0000ff"/>
<circle cx="257.27" cy="221.49" r="0.9" fill="#0000ff"/>
<circle cx="256.51" cy="222.34" r="0.9" fill="#0000ff"/>
<circle cx="257.60" cy="222.85" r="0.9" fill="#0000ff"/>
<circle cx="256.32" cy="223.63" r="0.9" fill="#0000ff"/>
<circle cx="257.17" cy="223.76" r="0.9" fill="#0000ff"/>
<circle cx="256.55" cy="225.16" r="0.9" fill="#0000ff"/>
<circle cx="257.17" cy="225.30" r="0.9" fill="#0000ff"/>
<circle cx="256.68" cy="225.99" r="0.9" fill="#0000ff"/>
<circle cx="257.49" cy="226.06" r="0.9" fill="#0000ff"/>
<circle cx="256.36" cy="227.27" r="0.9" fill="#0000ff"/>
<circle cx="257.14" cy="227.63" r="0.9" fill="#0000ff"/>
<circle cx="256.43" cy="228.66" r="0.9" fill="#0000ff"/>
<circle cx="257.17" cy="228.83" r="0.9" fill="#0000ff"/>
<circle cx="256.62" cy="229.72" r="0.9" fill="#0000ff"/>
<circle cx="257.56" cy="229.61" r="0.9" fill="#0000ff"/>
<circle cx="257.12" cy="230.71" r="0.9" fill="#0000ff"/>
<circle cx="257.14" cy="232.45" r="0.9" fill="#0000ff"/>
<circle cx="256.25" cy="233.16" r="0.9" fill="#0000ff"/>
<circle cx="257.26" cy="233.15" r="0.9" fill="#0000ff"/>
<circle cx="256.67" cy="234.73" r="0.9" fill="#0000ff"/>
<circle cx="256.62" cy="235.64" r="0.9" fill="#0000ff"/>
<circle cx="257.36" cy="235.52" r="0.9" fill="#0000ff"/>
<circle cx="256.20" cy="236.96" r="0.9" fill="#0000ff"/>
<circle cx="257.25" cy="237.29" r="0.9" fill="#0000ff"/>
<circle cx="256.43" cy="237.97" r="0.9" fill="#0000ff"/>
<circle cx="257.17" cy="238.16" r="0.9" fill="#0000ff"/>
<circle cx="256.58" cy="239.19" r="0.9" fill="#0000ff"/>
<circle cx="257.28" cy="239.17" r="0.9" fill="#0000ff"/>
<circle cx="256.34" cy="240.85" r="0.9" fill="#0000ff"/>
<circle cx="257.60" cy="240.88" r="0.9" fill="#0000ff"/>
<circle cx="256.24" cy="241.66" r="0.9" fill="#0000ff"/>
<circle cx="257.10" cy="241.54" r="0.9" fill="#0000ff"/>
<circle cx="256.46" cy="242.94" r="0.9" fill="#0000ff"/>
<circle cx="257.49" cy="242.71" r="0.9" fill="#0000ff"/>
<circle cx="256.45" cy="244.23" r="0.9" fill="#0000ff"/>
<circle cx="257.60" cy="244.49" r="0.9" fill="#0000ff"/>
<circle cx="256.31" cy="245.34" r="0.9" fill="#0000ff"/>
<circle cx="257.31" cy="245.68" r="0.9" fill="#0000ff"/>
<circle cx="256.21" cy="246.55" r="0.9" fill="#0000ff"/>
<circle cx="256.67" cy="247.86" r="0.9" fill="#0000ff"/>
<circle cx="257.31" cy="247.87" r="0.9" fill="#0000ff"/>
<circle cx="256.18" cy="248.82" r="0.9" fill="#0000ff"/>
<circle cx="257.63" cy="249.17" r="0.9" fill="#0000ff"/>
<circle cx="256.31" cy="250.32" r="0.9" fill="#0000ff"/>
<circle cx="257.28" cy="250.23" r="0.9" fill="#0000ff"/>
<circle cx="257.60" cy="251.55" r="0.9" fill="#0000ff"/>
<circle cx="256.70" cy="252.66" r="0.9" fill="#0000ff"/>
<circle cx="257.54" cy="252.68" r="0.9" fill="#0000ff"/>
<circle cx="256.34" cy="253.93" r="0.9" fill="#0000ff"/>
<circle cx="257.50" cy="253.87" r="0.9" fill="#0000ff"/>
<circle cx="256.43" cy="255.08" r="0.9" fill="#0000ff"/>
<circle cx="257.26" cy="255.07" r="0.9" fill="#0000ff"/>
<circle cx="256.53" cy="256.18" r="0.9" fill="#0000ff"/>
<circle cx="257.23" cy="256.19" r="0.9" fill="#0000ff"/>
<circle cx="335.00" cy="94.80" r="0.9" fill="#0000ff"/>
<circle cx="335.00" cy="98.10" r="0.9" fill="#0000ff"/>
<circle cx="335.00" cy="107.60" r="0.9" fill="#0000ff"/>
<circle cx="335.00" cy="123.00" r="0.9" fill="#0000ff"/>
<circle cx="335.00" cy="127.40" r="0.9" fill="#0000ff"/>
<circle cx="335.00" cy="132.70" r="0.9" fill="#0000ff"/>
<circle cx="335.00" cy="134.50" r="0.9" fill="#0000ff"/>
<circle cx="334.59" cy="139.38" r="0.9" fill="#0000ff"/>
<circle cx="335.16" cy="138.98" r="0.9" fill="#0000ff"/>
<circle cx="334.29" cy="139.67" r="0.9" fill="#0000ff"/>
<circle cx="335.82" cy="140.11" r="0.9" fill="#0000ff"/>
<circle cx="334.45" cy="140.78" r="0.9" fill="#0000ff"/>
<circle cx="335.40" cy="141.05" r="0.9" fill="#0000ff"/>
<circle cx="334.53" cy="142.14" r="0.9" fill="#0000ff"/>
<circle cx="335.71" cy="142.13" r="0.9" fill="#0000ff"/>
<circle cx="334.76" cy="142.90" r="0.9" fill="#0000ff"/>
<circle cx="335.41" cy="142.75" r="0.9" fill="#0000ff"/>
<circle cx="334.57" cy="143.88" r="0.9" fill="#0000ff"/>
<circle cx="335.51" cy="143.47" r="0.9" fill="#0000ff"/>
<circle cx="334.41" cy="144.93" r="0.9" fill="#0000ff"/>
<circle cx="336.01" cy="144.57" r="0.9" fill="#0000ff"/>
<circle cx="334.04" cy="145.57" r="0.9" fill="#0000ff"/>
<circle cx="335.94" cy="145.97" r="0.9" fill="#0000ff"/>
<circle cx="334.24" cy="146.46" r="0.9" fill="#0000ff"/>
<circle cx="336.06" cy="146.49" r="0.9" fill="#0000ff"/>
<circle cx="334.55" cy="147.58" r="0.9" fill="#0000ff"/>
<circle cx="335.65" cy="147.53" r="0.9" fill="#0000ff"/>
<circle cx="334.40" cy="148.59" r="0.9" fill="#0000ff"/>
<circle cx="335.74" cy="148.40" r="0.9" fill="#0000ff"/>
<circle cx="334.16" cy="149.78" r="0.9" fill="#0000ff"/>
<circle cx="336.13" cy="149.32" r="0.9" fill="#0000ff"/>
<circle cx="333.72" cy="150.55" r="0.9" fill="#0000ff"/>
<circle cx="336.14" cy="150.05" r="0.9" fill="#0000ff"/>
<circle cx="333.75" cy="151.13" r="0.9" fill="#0000ff"/>
<circle cx="336.08" cy="151.54" r="0.9" fill="#0000ff"/>
<circle cx="334.14" cy="152.66" r="0.9" fill="#0000ff"/>
<circle cx="336.24" cy="151.97" r="0.9" fill="#0000ff"/>
<circle cx="334.30" cy="153.00" r="0.9" fill="#0000ff"/>
<circle cx="335.57" cy="153.16" r="0.9" fill="#0000ff"/>
<circle cx="334.18" cy="154.40" r="0.9" fill="#0000ff"/>
<circle cx="333.80" cy="154.79" r="0.9" fill="#0000ff"/>
<circle cx="336.00" cy="155.32" r="0.9" fill="#0000ff"/>
<circle cx="333.84" cy="155.83" r="0.9" fill="#0000ff"/>
<circle cx="336.28" cy="156.24" r="0.9" fill="#0000ff"/>
<circle cx="334.05" cy="157.43" r="0.9" fill="#0000ff"/>
<circle cx="335.69" cy="156.85" r="0.9" fill="#0000ff"/>
<circle cx="333.84" cy="158.69" r="0.9" fill="#0000ff"/>
<circle cx="336.09" cy="158.83" r="0.9" fill="#0000ff"/>
<circle cx="334.24" cy="159.92" r="0.9" fill="#0000ff"/>
<circle cx="336.13" cy="159.85" r="0.9" fill="#0000ff"/>
<circle cx="334.41" cy="160.81" r="0.9" fill="#0000ff"/>
<circle cx="335.82" cy="160.72" r="0.9" fill="#0000ff"/>
<circle cx="334.43" cy="162.09" r="0.9" fill="#0000ff"/>
<circle cx="335.64" cy="161.51" r="0.9" fill="#0000ff"/>
<circle cx="333.70" cy="162.90" r="0.9" fill="#0000ff"/>
<circle cx="335.91" cy="162.98" r="0.9" fill="#0000ff"/>
<circle cx="334.03" cy="163.94" r="0.9" fill="#0000ff"/>
<circle cx="336.08" cy="163.76" r="0.9" fill="#0000ff"/>
<circle cx="334.46" cy="165.02" r="0.9" fill="#0000ff"/>
<circle cx="335.75" cy="164.74" r="0.9" fill="#0000ff"/>
<circle cx="334.42" cy="165.42" r="0.9" fill="#0000ff"/>
<circle cx="336.16" cy="165.83" r="0.9" fill="#0000ff"/>
<circle cx="336.11" cy="166.40" r="0.9" fill="#0000ff"/>
<circle cx="333.83" cy="167.59" r="0.9" fill="#0000ff"/>
<circle cx="335.72" cy="167.49" r="0.9" fill="#0000ff"/>
<circle cx="334.44" cy="168.12" r="0.9" fill="#0000ff"/>
<circle cx="336.11" cy="168.17" r="0.9" fill="#0000ff"/>
<circle cx="334.17" cy="169.73" r="0.9" fill="#0000ff"/>
<circle cx="335.57" cy="169.75" r="0.9" fill="#0000ff"/>
<circle cx="333.92" cy="170.03" r="0.9" fill="#0000ff"/>
<circle cx="335.85" cy="170.65" r="0.9" fill="#0000ff"/>
<circle cx="334.28" cy="171.11" r="0.9" fill="#0000ff"/>
<circle cx="335.90" cy="170.98" r="0.9" fill="#0000ff"/>
<circle cx="334.22" cy="172.02" r="0.9" fill="#0000ff"/>
<circle cx="336.24" cy="172.15" r="0.9" fill="#0000ff"/>
<circle cx="334.04" cy="173.60" r="0.9" fill="#0000ff"/>
<circle cx="336.11" cy="173.45" r="0.9" fill="#0000ff"/>
<circle cx="334.02" cy="174.44" r="0.9" fill="#0000ff"/>
<circle cx="335.59" cy="174.13" r="0.9" fill="#0000ff"/>
<circle cx="334.24" cy="174.82" r="0.9" fill="#0000ff"/>
<circle cx="335.93" cy="175.49" r="0.9" fill="#0000ff"/>
<circle cx="334.21" cy="175.75" r="0.9" fill="#0000ff"/>
<circle cx="336.15" cy="175.85" r="0.9" fill="#0000ff"/>
<circle cx="333.77" cy="176.98" r="0.9" fill="#0000ff"/>
<circle cx="335.53" cy="177.31" r="0.9" fill="#0000ff"/>
<circle cx="334.27" cy="177.93" r="0.9" fill="#0000ff"/>
<circle cx="336.25" cy="177.82" r="0.9" fill="#0000ff"/>
<circle cx="334.35" cy="178.61" r="0.9" fill="#0000ff"/>
<circle cx="335.90" cy="178.65" r="0.9" fill="#0000ff"/>
<circle cx="334.44" cy="179.58" r="0.9" fill="#0000ff"/>
<circle cx="335.70" cy="180.08" r="0.9" fill="#0000ff"/>
<circle cx="334.43" cy="180.58" r="0.9" fill="#0000ff"/>
<circle cx="336.12" cy="181.18" r="0.9" fill="#0000ff"/>
<circle cx="334.38" cy="181.78" r="0.9" fill="#0000ff"/>
<circle cx="336.23" cy="181.43" r="0.9" fill="#0000ff"/>
<circle cx="334.30" cy="182.85" r="0.9" fill="#0000ff"/>
<circle cx="336.16" cy="182.67" r="0.9" fill="#0000ff"/>
<circle cx="336.05" cy="183.38" r="0.9" fill="#0000ff"/>
<circle cx="333.83" cy="184.52" r="0.9" fill="#0000ff"/>
<circle cx="335.89" cy="184.58" r="0.9" fill="#0000ff"/>
<circle cx="334.14" cy="185.44" r="0.9" fill="#0000ff"/>
<circle cx="335.63" cy="185.62" r="0.9" fill="#0000ff"/>
<circle cx="334.47" cy="186.39" r="0.9" fill="#0000ff"/>
<circle cx="334.47" cy="187.52" r="0.9" fill="#0000ff"/>
<circle cx="335.75" cy="187.49" r="0.9" fill="#0000ff"/>
<circle cx="333.80" cy="188.16" r="0.9" fill="#0000ff"/>
<circle cx="335.95" cy="188.50" r="0.9" fill="#0000ff"/>
<circle cx="333.99" cy="189.50" r="0.9" fill="#0000ff"/>
<circle cx="335.93" cy="189.46" r="0.9" fill="#0000ff"/>
<circle cx="333.99" cy="190.44" r="0.9" fill="#0000ff"/>
<circle cx="336.28" cy="190.14" r="0.9" fill="#0000ff"/>
<circle cx="333.75" cy="191.63" r="0.9" fill="#0000ff"/>
<circle cx="335.66" cy="191.29" r="0.9" fill="#0000ff"/>
<circle cx="334.37" cy="191.89" r="0.9" fill="#0000ff"/>
<circle cx="336.24" cy="192.35" r="0.9" fill="#0000ff"/>
<circle cx="335.50" cy="193.32" r="0.9" fill="#0000ff"/>
<circle cx="334.48" cy="194.04" r="0.9" fill="#0000ff"/>
<circle cx="335.51" cy="194.15" r="0.9" fill="#0000ff"/>
<circle cx="334.17" cy="195.37" r="0.9" fill="#0000ff"/>
<circle cx="335.66" cy="194.66" r="0.9" fill="#0000ff"/>
<circle cx="333.78" cy="196.27" r="0.9" fill="#0000ff"/>
<circle cx="336.20" cy="195.81" r="0.9" fill="#0000ff"/>
<circle cx="334.47" cy="196.81" r="0.9" fill="#0000ff"/>
<circle cx="335.55" cy="197.11" r="0.9" fill="#0000ff"/>
<circle cx="333.79" cy="198.28" r="0.9" fill="#0000ff"/>
<circle cx="335.62" cy="197.72" r="0.9" fill="#0000ff"/>
<circle cx="334.46" cy="198.98" r="0.9" fill="#0000ff"/>
<circle cx="335.63" cy="199.92" r="0.9" fill="#0000ff"/>
<circle cx="333.99" cy="200.79" r="0.9" fill="#0000ff"/>
<circle cx="335.61" cy="200.55" r="0.9" fill="#0000ff"/>
<circle cx="334.17" cy="201.42" r="0.9" fill="#0000ff"/>
<circle cx="335.90" cy="201.43" r="0.9" fill="#0000ff"/>
<circle cx="334.03" cy="202.70" r="0.9" fill="#0000ff"/>
<circle cx="335.55" cy="202.26" r="0.9" fill="#0000ff"/>
<circle cx="334.31" cy="203.39" r="0.9" fill="#0000ff"/>
<circle cx="335.69" cy="203.86" r="0.9" fill="#0000ff"/>
<circle cx="334.01" cy="204.53" r="0.9" fill="#0000ff"/>
<circle cx="335.68" cy="204.76" r="0.9" fill="#0000ff"/>
<circle cx="334.08" cy="205.77" r="0.9" fill="#0000ff"/>
<circle cx="335.97" cy="205.84" r="0.9" fill="#0000ff"/>
<circle cx="333.80" cy="206.11" r="0.9" fill="#0000ff"/>
<circle cx="335.98" cy="206.12" r="0.9" fill="#0000ff"/>
<circle cx="334.17" cy="207.25" r="0.9" fill="#0000ff"/>
<circle cx="335.56" cy="207.20" r="0.9" fill="#0000ff"/>
<circle cx="334.52" cy="208.21" r="0.9" fill="#0000ff"/>
<circle cx="335.54" cy="208.29" r="0.9" fill="#0000ff"/>
<circle cx="334.49" cy="209.00" r="0.9" fill="#0000ff"/>
<circle cx="335.89" cy="209.03" r="0.9" fill="#0000ff"/>
<circle cx="334.11" cy="210.26" r="0.9" fill="#0000ff"/>
<circle cx="335.93" cy="210.44" r="0.9" fill="#0000ff"/>
<circle cx="334.40" cy="210.93" r="0.9" fill="#0000ff"/>
<circle cx="335.41" cy="211.33" r="0.9" fill="#0000ff"/>
<circle cx="334.07" cy="211.75" r="0.9" fill="#0000ff"/>
<circle cx="335.38" cy="211.91" r="0.9" fill="#0000ff"/>
<circle cx="334.18" cy="213.50" r="0.9" fill="#0000ff"/>
<circle cx="335.46" cy="213.24" r="0.9" fill="#0000ff"/>
<circle cx="334.29" cy="214.20" r="0.9" fill="#0000ff"/>
<circle cx="335.69" cy="213.71" r="0.9" fill="#0000ff"/>
<circle cx="335.64" cy="214.68" r="0.9" fill="#0000ff"/>
<circle cx="334.53" cy="215.71" r="0.9" fill="#0000ff"/>
<circle cx="335.44" cy="216.20" r="0.9" fill="#0000ff"/>
<circle cx="334.40" cy="217.15" r="0.9" fill="#0000ff"/>
<circle cx="335.28" cy="216.89" r="0.9" fill="#0000ff"/>
<circle cx="334.51" cy="218.01" r="0.9" fill="#0000ff"/>
<circle cx="334.71" cy="218.97" r="0.9" fill="#0000ff"/>
<circle cx="335.18" cy="218.66" r="0.9" fill="#0000ff"/>
<circle cx="334.37" cy="219.93" r="0.9" fill="#0000ff"/>
<circle cx="335.68" cy="219.64" r="0.9" fill="#0000ff"/>
<circle cx="334.46" cy="221.08" r="0.9" fill="#0000ff"/>
<circle cx="335.68" cy="220.37" r="0.9" fill="#0000ff"/>
<circle cx="334.24" cy="221.76" r="0.9" fill="#0000ff"/>
<circle cx="335.18" cy="221.82" r="0.9" fill="#0000ff"/>
<circle cx="334.12" cy="222.74" r="0.9" fill="#0000ff"/>
<circle cx="335.78" cy="222.48" r="0.9" fill="#0000ff"/>
<circle cx="335.70" cy="223.88" r="0.9" fill="#0000ff"/>
<circle cx="334.91" cy="224.57" r="0.9" fill="#0000ff"/>
<circle cx="335.52" cy="224.86" r="0.9" fill="#0000ff"/>
<circle cx="334.53" cy="225.46" r="0.9" fill="#0000ff"/>
<circle cx="335.46" cy="225.35" r="0.9" fill="#0000ff"/>
<circle cx="334.38" cy="226.18" r="0.9" fill="#0000ff"/>
<circle cx="335.38" cy="226.40" r="0.9" fill="#0000ff"/>
<circle cx="334.59" cy="227.10" r="0.9" fill="#0000ff"/>
<circle cx="335.60" cy="227.57" r="0.9" fill="#0000ff"/>
<circle cx="334.37" cy="228.31" r="0.9" fill="#0000ff"/>
<circle cx="335.33" cy="228.31" r="0.9" fill="#0000ff"/>
<circle cx="334.74" cy="229.17" r="0.9" fill="#0000ff"/>
<circle cx="335.61" cy="229.24" r="0.9" fill="#0000ff"/>
<circle cx="334.47" cy="230.16" r="0.9" fill="#0000ff"/>
<circle cx="335.62" cy="230.09" r="0.9" fill="#0000ff"/>
<circle cx="334.38" cy="230.92" r="0.9" fill="#0000ff"/>
<circle cx="335.55" cy="231.27" r="0.9" fill="#0000ff"/>
<circle cx="334.42" cy="232.25" r="0.9" fill="#0000ff"/>
<circle cx="335.03" cy="231.99" r="0.9" fill="#0000ff"/>
<circle cx="335.76" cy="233.19" r="0.9" fill="#0000ff"/>
<circle cx="334.49" cy="233.78" r="0.9" fill="#0000ff"/>
<circle cx="335.57" cy="234.24" r="0.9" fill="#0000ff"/>
<circle cx="334.44" cy="234.85" r="0.9" fill="#0000ff"/>
<circle cx="335.69" cy="235.12" r="0.9" fill="#0000ff"/>
<circle cx="334.58" cy="236.19" r="0.9" fill="#0000ff"/>
<circle cx="335.75" cy="235.75" r="0.9" fill="#0000ff"/>
<circle cx="334.47" cy="236.58" r="0.9" fill="#0000ff"/>
<circle cx="335.22" cy="237.13" r="0.9" fill="#0000ff"/>
<circle cx="334.59" cy="238.11" r="0.9" fill="#0000ff"/>
<circle cx="335.25" cy="238.02" r="0.9" fill="#0000ff"/>
<circle cx="334.61" cy="239.07" r="0.9" fill="#0000ff"/>
<circle cx="335.15" cy="238.83" r="0.9" fill="#0000ff"/>
<circle cx="334.57" cy="239.61" r="0.9" fill="#0000ff"/>
<circle cx="335.54" cy="239.60" r="0.9" fill="#0000ff"/>
<circle cx="334.77" cy="240.79" r="0.9" fill="#0000ff"/>
<circle cx="335.47" cy="240.27" r="0.9" fill="#0000ff"/>
<circle cx="334.76" cy="241.44" r="0.9" fill="#0000ff"/>
<circle cx="334.79" cy="242.88" r="0.9" fill="#0000ff"/>
<circle cx="334.86" cy="243.56" r="0.9" fill="#0000ff"/>
<circle cx="335.00" cy="247.50" r="0.9" fill="#0000ff"/>
<circle cx="335.00" cy="251.30" r="0.9" fill="#0000ff"/>
<circle cx="335.00" cy="253.50" r="0.9" fill="#0000ff"/>
<circle cx="335.00" cy="256.30" r="0.9" fill="#0000ff"/>
<circle cx="116.35" cy="233.40" r="0.9" fill="#00ff00"/>
<circle cx="116.35" cy="235.90" r="0.9" fill="#00ff00"/>
<circle cx="116.35" cy="238.40" r="0.9" fill="#00ff00"/>
<circle cx="116.35" cy="240.90" r="0.9" fill="#00ff00"/>
<circle cx="116.35" cy="243.40" r="0.9" fill="#00ff00"/>
<circle cx="116.35" cy="245.90" r="0.9" fill="#00ff00"/>
<circle cx="116.35" cy="248.40" r="0.9" fill="#00ff00"/>
<circle cx="116.35" cy="250.90" r="0.9" fill="#00ff00"/>
<circle cx="116.35" cy="253.40" r="0.9" fill="#00ff00"/>
<circle cx="116.35" cy="255.90" r="0.9" fill="#00ff00"/>
<circle cx="194.45" cy="152.50" r="0.9" fill="#00ff00"/>
<circle cx="194.45" cy="154.30" r="0.9" fill="#00ff00"/>
<circle cx="194.45" cy="167.60" r="0.9" fill="#00ff00"/>
<circle cx="194.12" cy="167.66" r="0.9" fill="#00ff00"/>
<circle cx="194.27" cy="169.40" r="0.9" fill="#00ff00"/>
<circle cx="194.62" cy="170.89" r="0.9" fill="#00ff00"/>
<circle cx="194.21" cy="172.27" r="0.9" fill="#00ff00"/>
<circle cx="194.38" cy="173.79" r="0.9" fill="#00ff00"/>
<circle cx="194.70" cy="174.64" r="0.9" fill="#00ff00"/>
<circle cx="194.74" cy="176.67" r="0.9" fill="#00ff00"/>
<circle cx="194.78" cy="177.41" r="0.9" fill="#00ff00"/>
<circle cx="194.26" cy="179.50" r="0.9" fill="#00ff00"/>
<circle cx="194.34" cy="180.87" r="0.9" fill="#00ff00"/>
<circle cx="194.53" cy="181.90" r="0.9" fill="#00ff00"/>
<circle cx="194.41" cy="183.42" r="0.9" fill="#00ff00"/>
<circle cx="194.62" cy="184.50" r="0.9" fill="#00ff00"/>
<circle cx="194.31" cy="186.49" r="0.9" fill="#00ff00"/>
<circle cx="194.65" cy="187.51" r="0.9" fill="#00ff00"/>
<circle cx="194.81" cy="189.30" r="0.9" fill="#00ff00"/>
<circle cx="194.47" cy="190.41" r="0.9" fill="#00ff00"/>
<circle cx="194.82" cy="191.42" r="0.9" fill="#00ff00"/>
<circle cx="194.13" cy="192.95" r="0.9" fill="#00ff00"/>
<circle cx="194.07" cy="194.85" r="0.9" fill="#00ff00"/>
<circle cx="194.21" cy="196.16" r="0.9" fill="#00ff00"/>
<circle cx="194.51" cy="197.48" r="0.9" fill="#00ff00"/>
<circle cx="193.69" cy="198.18" r="0.9" fill="#00ff00"/>
<circle cx="194.44" cy="198.20" r="0.9" fill="#00ff00"/>
<circle cx="193.93" cy="198.99" r="0.9" fill="#00ff00"/>
<circle cx="194.88" cy="198.66" r="0.9" fill="#00ff00"/>
<circle cx="194.14" cy="200.08" r="0.9" fill="#00ff00"/>
<circle cx="195.31" cy="200.07" r="0.9" fill="#00ff00"/>
<circle cx="194.09" cy="201.29" r="0.9" fill="#00ff00"/>
<circle cx="195.51" cy="200.93" r="0.9" fill="#00ff00"/>
<circle cx="193.98" cy="201.91" r="0.9" fill="#00ff00"/>
<circle cx="195.08" cy="201.85" r="0.9" fill="#00ff00"/>
<circle cx="193.90" cy="202.94" r="0.9" fill="#00ff00"/>
<circle cx="195.72" cy="203.37" r="0.9" fill="#00ff00"/>
<circle cx="193.37" cy="203.60" r="0.9" fill="#00ff00"/>
<circle cx="195.48" cy="203.77" r="0.9" fill="#00ff00"/>
<circle cx="193.26" cy="204.88" r="0.9" fill="#00ff00"/>
<circle cx="194.45" cy="204.94" r="0.9" fill="#00ff00"/>
<circle cx="196.09" cy="204.68" r="0.9" fill="#00ff00"/>
<circle cx="193.24" cy="206.39" r="0.9" fill="#00ff00"/>
<circle cx="194.80" cy="206.35" r="0.9" fill="#00ff00"/>
<circle cx="195.57" cy="206.13" r="0.9" fill="#00ff00"/>
<circle cx="193.04" cy="206.80" r="0.9" fill="#00ff00"/>
<circle cx="194.23" cy="207.11" r="0.9" fill="#00ff00"/>
<circle cx="196.31" cy="206.94" r="0.9" fill="#00ff00"/>
<circle cx="193.02" cy="207.82" r="0.9" fill="#00ff00"/>
<circle cx="194.86" cy="208.08" r="0.9" fill="#00ff00"/>
<circle cx="195.99" cy="207.79" r="0.9" fill="#00ff00"/>
<circle cx="192.43" cy="208.68" r="0.9" fill="#00ff00"/>
<circle cx="194.37" cy="208.81" r="0.9" fill="#00ff00"/>
<circle cx="195.76" cy="208.77" r="0.9" fill="#00ff00"/>
<circle cx="192.75" cy="210.31" r="0.9" fill="#00ff00"/>
<circle cx="194.18" cy="210.14" r="0.9" fill="#00ff00"/>
<circle cx="196.29" cy="209.96" r="0.9" fill="#00ff00"/>
<circle cx="192.47" cy="210.97" r="0.9" fill="#00ff00"/>
<circle cx="194.46" cy="210.75" r="0.9" fill="#00ff00"/>
<circle cx="195.82" cy="211.08" r="0.9" fill="#00ff00"/>
<circle cx="192.40" cy="212.33" r="0.9" fill="#00ff00"/>
<circle cx="194.26" cy="211.99" r="0.9" fill="#00ff00"/>
<circle cx="192.32" cy="213.24" r="0.9" fill="#00ff00"/>
<circle cx="193.79" cy="213.33" r="0.9" fill="#00ff00"/>
<circle cx="195.00" cy="212.90" r="0.9" fill="#00ff00"/>
<circle cx="196.02" cy="212.65" r="0.9" fill="#00ff00"/>
<circle cx="193.69" cy="213.69" r="0.9" fill="#00ff00"/>
<circle cx="195.16" cy="214.16" r="0.9" fill="#00ff00"/>
<circle cx="196.29" cy="214.29" r="0.9" fill="#00ff00"/>
<circle cx="192.85" cy="215.22" r="0.9" fill="#00ff00"/>
<circle cx="194.03" cy="215.26" r="0.9" fill="#00ff00"/>
<circle cx="195.39" cy="214.66" r="0.9" fill="#00ff00"/>
<circle cx="196.36" cy="215.24" r="0.9" fill="#00ff00"/>
<circle cx="192.68" cy="216.42" r="0.9" fill="#00ff00"/>
<circle cx="194.17" cy="216.26" r="0.9" fill="#00ff00"/>
<circle cx="195.02" cy="215.89" r="0.9" fill="#00ff00"/>
<circle cx="196.10" cy="216.20" r="0.9" fill="#00ff00"/>
<circle cx="192.50" cy="217.05" r="0.9" fill="#00ff00"/>
<circle cx="194.15" cy="217.26" r="0.9" fill="#00ff00"/>
<circle cx="194.78" cy="216.95" r="0.9" fill="#00ff00"/>
<circle cx="196.36" cy="216.68" r="0.9" fill="#00ff00"/>
<circle cx="192.98" cy="217.63" r="0.9" fill="#00ff00"/>
<circle cx="194.14" cy="218.31" r="0.9" fill="#00ff00"/>
<circle cx="196.67" cy="217.93" r="0.9" fill="#00ff00"/>
<circle cx="192.65" cy="218.59" r="0.9" fill="#00ff00"/>
<circle cx="194.08" cy="219.38" r="0.9" fill="#00ff00"/>
<circle cx="195.08" cy="219.45" r="0.9" fill="#00ff00"/>
<circle cx="196.21" cy="219.17" r="0.9" fill="#00ff00"/>
<circle cx="192.45" cy="220.09" r="0.9" fill="#00ff00"/>
<circle cx="194.71" cy="220.02" r="0.9" fill="#00ff00"/>
<circle cx="196.37" cy="219.91" r="0.9" fill="#00ff00"/>
<circle cx="193.00" cy="221.34" r="0.9" fill="#00ff00"/>
<circle cx="193.94" cy="220.95" r="0.9" fill="#00ff00"/>
<circle cx="196.60" cy="221.03" r="0.9" fill="#00ff00"/>
<circle cx="193.01" cy="221.84" r="0.9" fill="#00ff00"/>
<circle cx="193.47" cy="222.01" r="0.9" fill="#00ff00"/>
<circle cx="195.36" cy="222.17" r="0.9" fill="#00ff00"/>
<circle cx="192.26" cy="222.93" r="0.9" fill="#00ff00"/>
<circle cx="193.83" cy="223.01" r="0.9" fill="#00ff00"/>
<circle cx="195.19" cy="222.71" r="0.9" fill="#00ff00"/>
<circle cx="196.78" cy="222.87" r="0.9" fill="#00ff00"/>
<circle cx="192.48" cy="223.59" r="0.9" fill="#00ff00"/>
<circle cx="193.99" cy="223.83" r="0.9" fill="#00ff00"/>
<circle cx="195.39" cy="223.82" r="0.9" fill="#00ff00"/>
<circle cx="196.06" cy="224.15" r="0.9" fill="#00ff00"/>
<circle cx="192.35" cy="225.05" r="0.9" fill="#00ff00"/>
<circle cx="194.27" cy="225.03" r="0.9" fill="#00ff00"/>
<circle cx="194.74" cy="224.92" r="0.9" fill="#00ff00"/>
<circle cx="195.99" cy="225.23" r="0.9" fill="#00ff00"/>
<circle cx="192.57" cy="225.70" r="0.9" fill="#00ff00"/>
<circle cx="194.09" cy="226.10" r="0.9" fill="#00ff00"/>
<circle cx="195.33" cy="225.56" r="0.9" fill="#00ff00"/>
<circle cx="196.22" cy="226.19" r="0.9" fill="#00ff00"/>
<circle cx="192.23" cy="226.79" r="0.9" fill="#00ff00"/>
<circle cx="193.69" cy="227.07" r="0.9" fill="#00ff00"/>
<circle cx="194.67" cy="226.90" r="0.9" fill="#00ff00"/>
<circle cx="196.72" cy="227.07" r="0.9" fill="#00ff00"/>
<circle cx="192.41" cy="228.11" r="0.9" fill="#00ff00"/>
<circle cx="194.16" cy="228.39" r="0.9" fill="#00ff00"/>
<circle cx="195.34" cy="228.36" r="0.9" fill="#00ff00"/>
<circle cx="196.68" cy="228.09" r="0.9" fill="#00ff00"/>
<circle cx="192.45" cy="229.40" r="0.9" fill="#00ff00"/>
<circle cx="194.20" cy="229.20" r="0.9" fill="#00ff00"/>
<circle cx="196.21" cy="229.34" r="0.9" fill="#00ff00"/>
<circle cx="192.43" cy="229.77" r="0.9" fill="#00ff00"/>
<circle cx="194.87" cy="229.72" r="0.9" fill="#00ff00"/>
<circle cx="195.83" cy="230.06" r="0.9" fill="#00ff00"/>
<circle cx="192.68" cy="230.90" r="0.9" fill="#00ff00"/>
<circle cx="194.74" cy="230.66" r="0.9" fill="#00ff00"/>
<circle cx="195.86" cy="230.77" r="0.9" fill="#00ff00"/>
<circle cx="192.39" cy="231.76" r="0.9" fill="#00ff00"/>
<circle cx="194.14" cy="231.86" r="0.9" fill="#00ff00"/>
<circle cx="195.89" cy="231.63" r="0.9" fill="#00ff00"/>
<circle cx="192.80" cy="232.67" r="0.9" fill="#00ff00"/>
<circle cx="194.14" cy="233.27" r="0.9" fill="#00ff00"/>
<circle cx="195.94" cy="233.20" r="0.9" fill="#00ff00"/>
<circle cx="194.45" cy="234.41" r="0.9" fill="#00ff00"/>
<circle cx="195.67" cy="233.96" r="0.9" fill="#00ff00"/>
<circle cx="193.30" cy="234.78" r="0.9" fill="#00ff00"/>
<circle cx="194.22" cy="234.88" r="0.9" fill="#00ff00"/>
<circle cx="196.30" cy="234.74" r="0.9" fill="#00ff00"/>
<circle cx="193.02" cy="236.01" r="0.9" fill="#00ff00"/>
<circle cx="194.35" cy="236.24" r="0.9" fill="#00ff00"/>
<circle cx="195.75" cy="236.06" r="0.9" fill="#00ff00"/>
<circle cx="192.73" cy="236.63" r="0.9" fill="#00ff00"/>
<circle cx="194.60" cy="236.84" r="0.9" fill="#00ff00"/>
<circle cx="195.75" cy="237.06" r="0.9" fill="#00ff00"/>
<circle cx="192.67" cy="237.82" r="0.9" fill="#00ff00"/>
<circle cx="194.11" cy="237.75" r="0.9" fill="#00ff00"/>
<circle cx="195.75" cy="237.80" r="0.9" fill="#00ff00"/>
<circle cx="193.45" cy="239.25" r="0.9" fill="#00ff00"/>
<circle cx="194.25" cy="238.67" r="0.9" fill="#00ff00"/>
<circle cx="195.94" cy="239.16" r="0.9" fill="#00ff00"/>
<circle cx="193.29" cy="239.92" r="0.9" fill="#00ff00"/>
<circle cx="194.76" cy="239.77" r="0.9" fill="#00ff00"/>
<circle cx="195.46" cy="240.12" r="0.9" fill="#00ff00"/>
<circle cx="193.44" cy="241.37" r="0.9" fill="#00ff00"/>
<circle cx="194.04" cy="240.59" r="0.9" fill="#00ff00"/>
<circle cx="195.49" cy="240.73" r="0.9" fill="#00ff00"/>
<circle cx="193.15" cy="241.59" r="0.9" fill="#00ff00"/>
<circle cx="194.76" cy="241.71" r="0.9" fill="#00ff00"/>
<circle cx="195.36" cy="242.19" r="0.9" fill="#00ff00"/>
<circle cx="193.26" cy="243.17" r="0.9" fill="#00ff00"/>
<circle cx="195.75" cy="243.30" r="0.9" fill="#00ff00"/>
<circle cx="193.80" cy="243.59" r="0.9" fill="#00ff00"/>
<circle cx="195.19" cy="243.59" r="0.9" fill="#00ff00"/>
<circle cx="193.31" cy="245.26" r="0.9" fill="#00ff00"/>
<circle cx="194.96" cy="245.22" r="0.9" fill="#00ff00"/>
<circle cx="193.87" cy="245.90" r="0.9" fill="#00ff00"/>
<circle cx="194.88" cy="245.80" r="0.9" fill="#00ff00"/>
<circle cx="195.35" cy="247.39" r="0.9" fill="#00ff00"/>
<circle cx="193.92" cy="248.30" r="0.9" fill="#00ff00"/>
<circle cx="195.28" cy="247.60" r="0.9" fill="#00ff00"/>
<circle cx="194.26" cy="249.01" r="0.9" fill="#00ff00"/>
<circle cx="194.61" cy="249.24" r="0.9" fill="#00ff00"/>
<circle cx="193.74" cy="250.28" r="0.9" fill="#00ff00"/>
<circle cx="195.07" cy="250.42" r="0.9" fill="#00ff00"/>
<circle cx="194.45" cy="252.30" r="0.9" fill="#00ff00"/>
<circle cx="194.45" cy="254.40" r="0.9" fill="#00ff00"/>
<circle cx="194.45" cy="256.50" r="0.9" fill="#00ff00"/>
<circle cx="272.55" cy="176.80" r="0.9" fill="#00ff00"/>
<circle cx="272.55" cy="188.50" r="0.9" fill="#00ff00"/>
<circle cx="272.55" cy="189.80" r="0.9" fill="#00ff00"/>
<circle cx="272.55" cy="192.70" r="0.9" fill="#00ff00"/>
<circle cx="272.56" cy="193.21" r="0.9" fill="#00ff00"/>
<circle cx="272.71" cy="194.11" r="0.9" fill="#00ff00"/>
<circle cx="272.71" cy="195.04" r="0.9" fill="#00ff00"/>
<circle cx="272.71" cy="196.37" r="0.9" fill="#00ff00"/>
<circle cx="272.32" cy="197.58" r="0.9" fill="#00ff00"/>
<circle cx="272.71" cy="198.67" r="0.9" fill="#00ff00"/>
<circle cx="272.43" cy="199.43" r="0.9" fill="#00ff00"/>
<circle cx="272.70" cy="200.63" r="0.9" fill="#00ff00"/>
<circle cx="272.34" cy="201.78" r="0.9" fill="#00ff00"/>
<circle cx="272.65" cy="203.15" r="0.9" fill="#00ff00"/>
<circle cx="272.70" cy="203.99" r="0.9" fill="#00ff00"/>
<circle cx="272.64" cy="204.92" r="0.9" fill="#00ff00"/>
<circle cx="272.42" cy="206.21" r="0.9" fill="#00ff00"/>
<circle cx="272.49" cy="207.22" r="0.9" fill="#00ff00"/>
<circle cx="272.59" cy="208.25" r="0.9" fill="#00ff00"/>
<circle cx="272.66" cy="209.34" r="0.9" fill="#00ff00"/>
<circle cx="272.42" cy="210.51" r="0.9" fill="#00ff00"/>
<circle cx="272.62" cy="211.50" r="0.9" fill="#00ff00"/>
<circle cx="272.51" cy="212.65" r="0.9" fill="#00ff00"/>
<circle cx="272.49" cy="213.96" r="0.9" fill="#00ff00"/>
<circle cx="272.48" cy="214.97" r="0.9" fill="#00ff00"/>
<circle cx="272.50" cy="216.00" r="0.9" fill="#00ff00"/>
<circle cx="272.48" cy="217.36" r="0.9" fill="#00ff00"/>
<circle cx="272.76" cy="218.34" r="0.9" fill="#00ff00"/>
<circle cx="272.66" cy="219.64" r="0.9" fill="#00ff00"/>
<circle cx="272.46" cy="220.58" r="0.9" fill="#00ff00"/>
<circle cx="272.49" cy="221.73" r="0.9" fill="#00ff00"/>
<circle cx="272.75" cy="222.70" r="0.9" fill="#00ff00"/>
<circle cx="272.60" cy="223.56" r="0.9" fill="#00ff00"/>
<circle cx="272.72" cy="224.88" r="0.9" fill="#00ff00"/>
<circle cx="272.75" cy="225.99" r="0.9" fill="#00ff00"/>
<circle cx="272.56" cy="227.10" r="0.9" fill="#00ff00"/>
<circle cx="272.67" cy="228.29" r="0.9" fill="#00ff00"/>
<circle cx="272.64" cy="229.07" r="0.9" fill="#00ff00"/>
<circle cx="272.68" cy="230.53" r="0.9" fill="#00ff00"/>
<circle cx="272.34" cy="231.36" r="0.9" fill="#00ff00"/>
<circle cx="272.34" cy="232.40" r="0.9" fill="#00ff00"/>
<circle cx="272.33" cy="233.73" r="0.9" fill="#00ff00"/>
<circle cx="272.54" cy="234.91" r="0.9" fill="#00ff00"/>
<circle cx="272.51" cy="236.00" r="0.9" fill="#00ff00"/>
<circle cx="272.71" cy="237.25" r="0.9" fill="#00ff00"/>
<circle cx="272.47" cy="237.92" r="0.9" fill="#00ff00"/>
<circle cx="272.79" cy="238.95" r="0.9" fill="#00ff00"/>
<circle cx="272.46" cy="240.18" r="0.9" fill="#00ff00"/>
<circle cx="272.58" cy="241.58" r="0.9" fill="#00ff00"/>
<circle cx="272.33" cy="242.46" r="0.9" fill="#00ff00"/>
<circle cx="272.70" cy="243.78" r="0.9" fill="#00ff00"/>
<circle cx="272.40" cy="244.58" r="0.9" fill="#00ff00"/>
<circle cx="272.49" cy="245.82" r="0.9" fill="#00ff00"/>
<circle cx="272.59" cy="246.89" r="0.9" fill="#00ff00"/>
<circle cx="272.40" cy="248.15" r="0.9" fill="#00ff00"/>
<circle cx="272.33" cy="249.13" r="0.9" fill="#00ff00"/>
<circle cx="272.50" cy="250.22" r="0.9" fill="#00ff00"/>
<circle cx="272.44" cy="251.21" r="0.9" fill="#00ff00"/>
<circle cx="272.66" cy="252.30" r="0.9" fill="#00ff00"/>
<circle cx="272.53" cy="253.55" r="0.9" fill="#00ff00"/>
<circle cx="272.74" cy="254.57" r="0.9" fill="#00ff00"/>
<circle cx="272.62" cy="255.67" r="0.9" fill="#00ff00"/>
<circle cx="350.65" cy="93.80" r="0.9" fill="#00ff00"/>
<circle cx="350.65" cy="101.00" r="0.9" fill="#00ff00"/>
<circle cx="350.65" cy="107.20" r="0.9" fill="#00ff00"/>
<circle cx="350.65" cy="112.20" r="0.9" fill="#00ff00"/>
<circle cx="350.65" cy="134.30" r="0.9" fill="#00ff00"/>
<circle cx="350.77" cy="139.86" r="0.9" fill="#00ff00"/>
<circle cx="350.35" cy="140.96" r="0.9" fill="#00ff00"/>
<circle cx="350.58" cy="141.75" r="0.9" fill="#00ff00"/>
<circle cx="350.01" cy="143.17" r="0.9" fill="#00ff00"/>
<circle cx="350.07" cy="144.09" r="0.9" fill="#00ff00"/>
<circle cx="350.66" cy="143.70" r="0.9" fill="#00ff00"/>
<circle cx="350.04" cy="145.00" r="0.9" fill="#00ff00"/>
<circle cx="351.46" cy="144.73" r="0.9" fill="#00ff00"/>
<circle cx="349.97" cy="145.60" r="0.9" fill="#00ff00"/>
<circle cx="351.39" cy="145.92" r="0.9" fill="#00ff00"/>
<circle cx="350.38" cy="146.56" r="0.9" fill="#00ff00"/>
<circle cx="351.36" cy="146.46" r="0.9" fill="#00ff00"/>
<circle cx="349.77" cy="147.99" r="0.9" fill="#00ff00"/>
<circle cx="350.81" cy="147.37" r="0.9" fill="#00ff00"/>
<circle cx="349.95" cy="148.22" r="0.9" fill="#00ff00"/>
<circle cx="351.08" cy="148.56" r="0.9" fill="#00ff00"/>
<circle cx="350.39" cy="149.51" r="0.9" fill="#00ff00"/>
<circle cx="351.29" cy="149.51" r="0.9" fill="#00ff00"/>
<circle cx="349.73" cy="150.74" r="0.9" fill="#00ff00"/>
<circle cx="351.21" cy="150.34" r="0.9" fill="#00ff00"/>
<circle cx="349.75" cy="151.45" r="0.9" fill="#00ff00"/>
<circle cx="351.28" cy="151.76" r="0.9" fill="#00ff00"/>
<circle cx="349.90" cy="152.48" r="0.9" fill="#00ff00"/>
<circle cx="351.70" cy="152.21" r="0.9" fill="#00ff00"/>
<circle cx="350.19" cy="153.23" r="0.9" fill="#00ff00"/>
<circle cx="351.20" cy="153.22" r="0.9" fill="#00ff00"/>
<circle cx="349.74" cy="154.38" r="0.9" fill="#00ff00"/>
<circle cx="351.75" cy="154.04" r="0.9" fill="#00ff00"/>
<circle cx="349.64" cy="155.47" r="0.9" fill="#00ff00"/>
<circle cx="351.34" cy="154.82" r="0.9" fill="#00ff00"/>
<circle cx="350.65" cy="156.29" r="0.9" fill="#00ff00"/>
<circle cx="351.37" cy="155.91" r="0.9" fill="#00ff00"/>
<circle cx="349.42" cy="157.26" r="0.9" fill="#00ff00"/>
<circle cx="350.74" cy="156.81" r="0.9" fill="#00ff00"/>
<circle cx="351.54" cy="157.11" r="0.9" fill="#00ff00"/>
<circle cx="349.53" cy="157.76" r="0.9" fill="#00ff00"/>
<circle cx="350.50" cy="157.76" r="0.9" fill="#00ff00"/>
<circle cx="351.85" cy="158.09" r="0.9" fill="#00ff00"/>
<circle cx="349.26" cy="159.06" r="0.9" fill="#00ff00"/>
<circle cx="350.70" cy="159.26" r="0.9" fill="#00ff00"/>
<circle cx="351.78" cy="158.89" r="0.9" fill="#00ff00"/>
<circle cx="350.34" cy="160.07" r="0.9" fill="#00ff00"/>
<circle cx="352.23" cy="159.58" r="0.9" fill="#00ff00"/>
<circle cx="350.93" cy="160.71" r="0.9" fill="#00ff00"/>
<circle cx="351.96" cy="161.16" r="0.9" fill="#00ff00"/>
<circle cx="349.25" cy="162.16" r="0.9" fill="#00ff00"/>
<circle cx="350.68" cy="162.00" r="0.9" fill="#00ff00"/>
<circle cx="352.33" cy="161.61" r="0.9" fill="#00ff00"/>
<circle cx="349.10" cy="162.42" r="0.9" fill="#00ff00"/>
<circle cx="350.75" cy="162.46" r="0.9" fill="#00ff00"/>
<circle cx="351.90" cy="162.53" r="0.9" fill="#00ff00"/>
<circle cx="349.49" cy="164.09" r="0.9" fill="#00ff00"/>
<circle cx="350.60" cy="164.14" r="0.9" fill="#00ff00"/>
<circle cx="352.47" cy="163.57" r="0.9" fill="#00ff00"/>
<circle cx="348.93" cy="164.89" r="0.9" fill="#00ff00"/>
<circle cx="350.69" cy="165.04" r="0.9" fill="#00ff00"/>
<circle cx="351.87" cy="164.99" r="0.9" fill="#00ff00"/>
<circle cx="349.36" cy="165.62" r="0.9" fill="#00ff00"/>
<circle cx="351.02" cy="165.41" r="0.9" fill="#00ff00"/>
<circle cx="352.43" cy="165.85" r="0.9" fill="#00ff00"/>
<circle cx="349.04" cy="166.76" r="0.9" fill="#00ff00"/>
<circle cx="351.01" cy="166.37" r="0.9" fill="#00ff00"/>
<circle cx="352.17" cy="166.61" r="0.9" fill="#00ff00"/>
<circle cx="349.31" cy="167.75" r="0.9" fill="#00ff00"/>
<circle cx="350.42" cy="167.44" r="0.9" fill="#00ff00"/>
<circle cx="352.31" cy="167.74" r="0.9" fill="#00ff00"/>
<circle cx="348.83" cy="168.52" r="0.9" fill="#00ff00"/>
<circle cx="350.66" cy="168.48" r="0.9" fill="#00ff00"/>
<circle cx="352.37" cy="168.26" r="0.9" fill="#00ff00"/>
<circle cx="348.78" cy="169.70" r="0.9" fill="#00ff00"/>
<circle cx="350.64" cy="169.56" r="0.9" fill="#00ff00"/>
<circle cx="351.97" cy="169.51" r="0.9" fill="#00ff00"/>
<circle cx="349.33" cy="170.00" r="0.9" fill="#00ff00"/>
<circle cx="350.69" cy="170.66" r="0.9" fill="#00ff00"/>
<circle cx="351.91" cy="170.50" r="0.9" fill="#00ff00"/>
<circle cx="349.37" cy="171.18" r="0.9" fill="#00ff00"/>
<circle cx="350.90" cy="171.49" r="0.9" fill="#00ff00"/>
<circle cx="352.58" cy="171.49" r="0.9" fill="#00ff00"/>
<circle cx="349.00" cy="171.98" r="0.9" fill="#00ff00"/>
<circle cx="350.43" cy="172.02" r="0.9" fill="#00ff00"/>
<circle cx="351.94" cy="172.21" r="0.9" fill="#00ff00"/>
<circle cx="348.82" cy="173.31" r="0.9" fill="#00ff00"/>
<circle cx="350.60" cy="173.28" r="0.9" fill="#00ff00"/>
<circle cx="351.85" cy="173.52" r="0.9" fill="#00ff00"/>
<circle cx="348.69" cy="173.96" r="0.9" fill="#00ff00"/>
<circle cx="350.68" cy="174.26" r="0.9" fill="#00ff00"/>
<circle cx="352.09" cy="174.42" r="0.9" fill="#00ff00"/>
<circle cx="349.11" cy="174.93" r="0.9" fill="#00ff00"/>
<circle cx="350.63" cy="175.05" r="0.9" fill="#00ff00"/>
<circle cx="352.40" cy="175.26" r="0.9" fill="#00ff00"/>
<circle cx="349.27" cy="176.14" r="0.9" fill="#00ff00"/>
<circle cx="350.95" cy="176.37" r="0.9" fill="#00ff00"/>
<circle cx="351.88" cy="175.90" r="0.9" fill="#00ff00"/>
<circle cx="349.10" cy="176.72" r="0.9" fill="#00ff00"/>
<circle cx="350.62" cy="176.89" r="0.9" fill="#00ff00"/>
<circle cx="352.37" cy="177.28" r="0.9" fill="#00ff00"/>
<circle cx="348.74" cy="177.78" r="0.9" fill="#00ff00"/>
<circle cx="350.81" cy="177.69" r="0.9" fill="#00ff00"/>
<circle cx="351.93" cy="178.40" r="0.9" fill="#00ff00"/>
<circle cx="349.10" cy="179.16" r="0.9" fill="#00ff00"/>
<circle cx="350.50" cy="178.86" r="0.9" fill="#00ff00"/>
<circle cx="352.14" cy="179.31" r="0.9" fill="#00ff00"/>
<circle cx="349.41" cy="179.85" r="0.9" fill="#00ff00"/>
<circle cx="350.39" cy="179.88" r="0.9" fill="#00ff00"/>
<circle cx="352.03" cy="180.21" r="0.9" fill="#00ff00"/>
<circle cx="349.19" cy="180.90" r="0.9" fill="#00ff00"/>
<circle cx="350.70" cy="180.65" r="0.9" fill="#00ff00"/>
<circle cx="351.97" cy="180.51" r="0.9" fill="#00ff00"/>
<circle cx="348.86" cy="182.18" r="0.9" fill="#00ff00"/>
<circle cx="350.92" cy="181.91" r="0.9" fill="#00ff00"/>
<circle cx="351.89" cy="181.50" r="0.9" fill="#00ff00"/>
<circle cx="349.04" cy="182.93" r="0.9" fill="#00ff00"/>
<circle cx="350.78" cy="182.88" r="0.9" fill="#00ff00"/>
<circle cx="351.88" cy="182.70" r="0.9" fill="#00ff00"/>
<circle cx="349.01" cy="183.57" r="0.9" fill="#00ff00"/>
<circle cx="350.88" cy="183.53" r="0.9" fill="#00ff00"/>
<circle cx="352.24" cy="183.74" r="0.9" fill="#00ff00"/>
<circle cx="348.99" cy="184.83" r="0.9" fill="#00ff00"/>
<circle cx="350.83" cy="184.27" r="0.9" fill="#00ff00"/>
<circle cx="351.88" cy="184.39" r="0.9" fill="#00ff00"/>
<circle cx="349.06" cy="185.53" r="0.9" fill="#00ff00"/>
<circle cx="351.02" cy="185.44" r="0.9" fill="#00ff00"/>
<circle cx="351.72" cy="185.55" r="0.9" fill="#00ff00"/>
<circle cx="350.92" cy="186.67" r="0.9" fill="#00ff00"/>
<circle cx="351.73" cy="186.75" r="0.9" fill="#00ff00"/>
<circle cx="349.38" cy="187.13" r="0.9" fill="#00ff00"/>
<circle cx="350.60" cy="187.26" r="0.9" fill="#00ff00"/>
<circle cx="351.60" cy="187.32" r="0.9" fill="#00ff00"/>
<circle cx="349.80" cy="188.39" r="0.9" fill="#00ff00"/>
<circle cx="350.70" cy="188.24" r="0.9" fill="#00ff00"/>
<circle cx="351.81" cy="188.08" r="0.9" fill="#00ff00"/>
<circle cx="349.54" cy="189.24" r="0.9" fill="#00ff00"/>
<circle cx="350.99" cy="189.05" r="0.9" fill="#00ff00"/>
<circle cx="352.00" cy="189.24" r="0.9" fill="#00ff00"/>
<circle cx="349.20" cy="190.25" r="0.9" fill="#00ff00"/>
<circle cx="350.37" cy="189.96" r="0.9" fill="#00ff00"/>
<circle cx="351.47" cy="190.02" r="0.9" fill="#00ff00"/>
<circle cx="349.24" cy="191.31" r="0.9" fill="#00ff00"/>
<circle cx="350.45" cy="191.23" r="0.9" fill="#00ff00"/>
<circle cx="351.41" cy="191.57" r="0.9" fill="#00ff00"/>
<circle cx="349.91" cy="191.93" r="0.9" fill="#00ff00"/>
<circle cx="350.94" cy="192.33" r="0.9" fill="#00ff00"/>
<circle cx="351.90" cy="191.90" r="0.9" fill="#00ff00"/>
<circle cx="349.40" cy="193.38" r="0.9" fill="#00ff00"/>
<circle cx="350.60" cy="192.95" r="0.9" fill="#00ff00"/>
<circle cx="351.56" cy="193.27" r="0.9" fill="#00ff00"/>
<circle cx="349.27" cy="194.26" r="0.9" fill="#00ff00"/>
<circle cx="350.43" cy="194.15" r="0.9" fill="#00ff00"/>
<circle cx="351.71" cy="194.16" r="0.9" fill="#00ff00"/>
<circle cx="349.55" cy="195.00" r="0.9" fill="#00ff00"/>
<circle cx="351.03" cy="194.92" r="0.9" fill="#00ff00"/>
<circle cx="352.04" cy="195.49" r="0.9" fill="#00ff00"/>
<circle cx="349.73" cy="196.30" r="0.9" fill="#00ff00"/>
<circle cx="350.77" cy="196.45" r="0.9" fill="#00ff00"/>
<circle cx="351.33" cy="196.10" r="0.9" fill="#00ff00"/>
<circle cx="349.47" cy="196.74" r="0.9" fill="#00ff00"/>
<circle cx="350.62" cy="196.76" r="0.9" fill="#00ff00"/>
<circle cx="351.77" cy="196.68" r="0.9" fill="#00ff00"/>
<circle cx="349.80" cy="197.93" r="0.9" fill="#00ff00"/>
<circle cx="351.37" cy="197.58" r="0.9" fill="#00ff00"/>
<circle cx="351.50" cy="198.84" r="0.9" fill="#00ff00"/>
<circle cx="349.84" cy="200.04" r="0.9" fill="#00ff00"/>
<circle cx="351.59" cy="199.91" r="0.9" fill="#00ff00"/>
<circle cx="350.11" cy="201.16" r="0.9" fill="#00ff00"/>
<circle cx="351.53" cy="201.19" r="0.9" fill="#00ff00"/>
<circle cx="349.96" cy="201.54" r="0.9" fill="#00ff00"/>
<circle cx="351.80" cy="202.10" r="0.9" fill="#00ff00"/>
<circle cx="350.01" cy="202.51" r="0.9" fill="#00ff00"/>
<circle cx="351.41" cy="202.55" r="0.9" fill="#00ff00"/>
<circle cx="350.08" cy="203.92" r="0.9" fill="#00ff00"/>
<circle cx="351.22" cy="203.39" r="0.9" fill="#00ff00"/>
<circle cx="349.69" cy="204.37" r="0.9" fill="#00ff00"/>
<circle cx="351.65" cy="204.32" r="0.9" fill="#00ff00"/>
<circle cx="349.71" cy="205.83" r="0.9" fill="#00ff00"/>
<circle cx="351.27" cy="205.39" r="0.9" fill="#00ff00"/>
<circle cx="349.81" cy="206.11" r="0.9" fill="#00ff00"/>
<circle cx="351.72" cy="206.11" r="0.9" fill="#00ff00"/>
<circle cx="350.25" cy="207.05" r="0.9" fill="#00ff00"/>
<circle cx="351.03" cy="207.25" r="0.9" fill="#00ff00"/>
<circle cx="349.97" cy="208.57" r="0.9" fill="#00ff00"/>
<circle cx="351.22" cy="208.20" r="0.9" fill="#00ff00"/>
<circle cx="351.68" cy="209.74" r="0.9" fill="#00ff00"/>
<circle cx="349.56" cy="210.58" r="0.9" fill="#00ff00"/>
<circle cx="351.51" cy="210.55" r="0.9" fill="#00ff00"/>
<circle cx="349.69" cy="211.50" r="0.9" fill="#00ff00"/>
<circle cx="351.25" cy="211.06" r="0.9" fill="#00ff00"/>
<circle cx="350.05" cy="212.37" r="0.9" fill="#00ff00"/>
<circle cx="351.39" cy="212.30" r="0.9" fill="#00ff00"/>
<circle cx="350.06" cy="213.40" r="0.9" fill="#00ff00"/>
<circle cx="351.19" cy="213.49" r="0.9" fill="#00ff00"/>
<circle cx="350.20" cy="213.97" r="0.9" fill="#00ff00"/>
<circle cx="351.40" cy="214.22" r="0.9" fill="#00ff00"/>
<circle cx="350.01" cy="215.27" r="0.9" fill="#00ff00"/>
<circle cx="351.10" cy="215.26" r="0.9" fill="#00ff00"/>
<circle cx="350.31" cy="216.10" r="0.9" fill="#00ff00"/>
<circle cx="351.56" cy="216.15" r="0.9" fill="#00ff00"/>
<circle cx="350.06" cy="216.66" r="0.9" fill="#00ff00"/>
<circle cx="351.63" cy="217.31" r="0.9" fill="#00ff00"/>
<circle cx="350.18" cy="218.13" r="0.9" fill="#00ff00"/>
<circle cx="350.97" cy="218.28" r="0.9" fill="#00ff00"/>
<circle cx="349.70" cy="218.81" r="0.9" fill="#00ff00"/>
<circle cx="351.58" cy="218.78" r="0.9" fill="#00ff00"/>
<circle cx="350.31" cy="220.08" r="0.9" fill="#00ff00"/>
<circle cx="351.06" cy="219.59" r="0.9" fill="#00ff00"/>
<circle cx="350.21" cy="220.67" r="0.9" fill="#00ff00"/>
<circle cx="351.29" cy="220.61" r="0.9" fill="#00ff00"/>
<circle cx="350.81" cy="221.57" r="0.9" fill="#00ff00"/>
<circle cx="350.05" cy="222.29" r="0.9" fill="#00ff00"/>
<circle cx="351.56" cy="222.81" r="0.9" fill="#00ff00"/>
<circle cx="350.18" cy="223.67" r="0.9" fill="#00ff00"/>
<circle cx="350.99" cy="223.51" r="0.9" fill="#00ff00"/>
<circle cx="350.16" cy="224.20" r="0.9" fill="#00ff00"/>
<circle cx="351.10" cy="224.54" r="0.9" fill="#00ff00"/>
<circle cx="350.37" cy="225.69" r="0.9" fill="#00ff00"/>
<circle cx="351.25" cy="225.19" r="0.9" fill="#00ff00"/>
<circle cx="350.35" cy="226.84" r="0.9" fill="#00ff00"/>
<circle cx="351.29" cy="226.75" r="0.9" fill="#00ff00"/>
<circle cx="350.41" cy="227.74" r="0.9" fill="#00ff00"/>
<circle cx="351.21" cy="227.20" r="0.9" fill="#00ff00"/>
<circle cx="350.37" cy="228.19" r="0.9" fill="#00ff00"/>
<circle cx="351.18" cy="228.22" r="0.9" fill="#00ff00"/>
<circle cx="350.50" cy="229.35" r="0.9" fill="#00ff00"/>
<circle cx="350.76" cy="229.69" r="0.9" fill="#00ff00"/>
<circle cx="350.35" cy="230.29" r="0.9" fill="#00ff00"/>
<circle cx="350.29" cy="231.18" r="0.9" fill="#00ff00"/>
<circle cx="351.48" cy="231.36" r="0.9" fill="#00ff00"/>
<circle cx="350.49" cy="232.01" r="0.9" fill="#00ff00"/>
<circle cx="350.74" cy="232.38" r="0.9" fill="#00ff00"/>
<circle cx="349.99" cy="233.34" r="0.9" fill="#00ff00"/>
<circle cx="351.27" cy="232.88" r="0.9" fill="#00ff00"/>
<circle cx="350.06" cy="234.13" r="0.9" fill="#00ff00"/>
<circle cx="351.32" cy="234.41" r="0.9" fill="#00ff00"/>
<circle cx="350.22" cy="234.80" r="0.9" fill="#00ff00"/>
<circle cx="351.33" cy="234.88" r="0.9" fill="#00ff00"/>
<circle cx="350.44" cy="236.00" r="0.9" fill="#00ff00"/>
<circle cx="350.90" cy="235.56" r="0.9" fill="#00ff00"/>
<circle cx="349.96" cy="237.25" r="0.9" fill="#00ff00"/>
<circle cx="351.11" cy="236.82" r="0.9" fill="#00ff00"/>
<circle cx="350.10" cy="237.50" r="0.9" fill="#00ff00"/>
<circle cx="350.91" cy="237.56" r="0.9" fill="#00ff00"/>
<circle cx="349.94" cy="238.86" r="0.9" fill="#00ff00"/>
<circle cx="350.77" cy="238.81" r="0.9" fill="#00ff00"/>
<circle cx="350.02" cy="240.01" r="0.9" fill="#00ff00"/>
<circle cx="350.84" cy="240.00" r="0.9" fill="#00ff00"/>
<circle cx="350.38" cy="243.26" r="0.9" fill="#00ff00"/>
<circle cx="351.34" cy="243.19" r="0.9" fill="#00ff00"/>
<circle cx="350.49" cy="244.43" r="0.9" fill="#00ff00"/>
<circle cx="351.44" cy="244.43" r="0.9" fill="#00ff00"/>
<circle cx="350.28" cy="245.53" r="0.9" fill="#00ff00"/>
<circle cx="350.99" cy="245.45" r="0.9" fill="#00ff00"/>
<circle cx="349.89" cy="246.63" r="0.9" fill="#00ff00"/>
<circle cx="350.97" cy="246.87" r="0.9" fill="#00ff00"/>
<circle cx="349.89" cy="247.92" r="0.9" fill="#00ff00"/>
<circle cx="351.01" cy="247.99" r="0.9" fill="#00ff00"/>
<circle cx="350.34" cy="248.85" r="0.9" fill="#00ff00"/>
<circle cx="350.91" cy="249.22" r="0.9" fill="#00ff00"/>
<circle cx="350.42" cy="250.09" r="0.9" fill="#00ff00"/>
<circle cx="351.33" cy="249.90" r="0.9" fill="#00ff00"/>
<circle cx="349.86" cy="251.52" r="0.9" fill="#00ff00"/>
<circle cx="351.41" cy="251.51" r="0.9" fill="#00ff00"/>
<circle cx="349.82" cy="252.56" r="0.9" fill="#00ff00"/>
<circle cx="351.35" cy="252.42" r="0.9" fill="#00ff00"/>
<circle cx="350.17" cy="254.00" r="0.9" fill="#00ff00"/>
<circle cx="351.07" cy="253.54" r="0.9" fill="#00ff00"/>
<circle cx="350.65" cy="254.50" r="0.9" fill="#00ff00"/>
<rect x="79.65" y="272.6" width="10.8" height="3.3" fill="#ff0000"/>
<rect x="95.30" y="272.6" width="10.8" height="3.3" fill="#0000ff"/>
<rect x="110.95" y="272.6" width="10.8" height="3.3" fill="#00ff00"/>
<line x1="57.9" y1="274.8" x2="364.6" y2="274.8" stroke="#000" stroke-width="2"/>
<rect x="79.65" y="272.6" width="10.8" height="3.3" fill="#ff0000"/>
<rect x="95.30" y="272.6" width="10.8" height="3.3" fill="#0000ff"/>
<rect x="110.95" y="272.6" width="10.8" height="3.3" fill="#00ff00"/>
<rect x="158.15" y="273.85" width="10.0" height="1.95" fill="#ff0000"/>
<rect x="173.80" y="273.85" width="10.0" height="1.95" fill="#0000ff"/>
<rect x="189.45" y="273.85" width="10.0" height="1.95" fill="#00ff00"/>
<rect x="236.25" y="273.85" width="10.0" height="1.95" fill="#ff0000"/>
<rect x="251.90" y="273.85" width="10.0" height="1.95" fill="#0000ff"/>
<rect x="267.55" y="273.85" width="10.0" height="1.95" fill="#00ff00"/>
<rect x="314.35" y="273.85" width="10.0" height="1.95" fill="#ff0000"/>
<rect x="330.00" y="273.85" width="10.0" height="1.95" fill="#0000ff"/>
<rect x="345.65" y="273.85" width="10.0" height="1.95" fill="#00ff00"/>
<line x1="69.40" y1="270.4" x2="69.40" y2="274" stroke="#000" stroke-width="1.4"/>
<line x1="85.05" y1="270.4" x2="85.05" y2="274" stroke="#000" stroke-width="1.4"/>
<line x1="100.70" y1="270.4" x2="100.70" y2="274" stroke="#000" stroke-width="1.4"/>
<line x1="116.35" y1="270.4" x2="116.35" y2="274" stroke="#000" stroke-width="1.4"/>
<line x1="147.50" y1="270.4" x2="147.50" y2="274" stroke="#000" stroke-width="1.4"/>
<line x1="163.15" y1="270.4" x2="163.15" y2="274" stroke="#000" stroke-width="1.4"/>
<line x1="178.80" y1="270.4" x2="178.80" y2="274" stroke="#000" stroke-width="1.4"/>
<line x1="194.45" y1="270.4" x2="194.45" y2="274" stroke="#000" stroke-width="1.4"/>
<line x1="225.60" y1="270.4" x2="225.60" y2="274" stroke="#000" stroke-width="1.4"/>
<line x1="241.25" y1="270.4" x2="241.25" y2="274" stroke="#000" stroke-width="1.4"/>
<line x1="256.90" y1="270.4" x2="256.90" y2="274" stroke="#000" stroke-width="1.4"/>
<line x1="272.55" y1="270.4" x2="272.55" y2="274" stroke="#000" stroke-width="1.4"/>
<line x1="303.70" y1="270.4" x2="303.70" y2="274" stroke="#000" stroke-width="1.4"/>
<line x1="319.35" y1="270.4" x2="319.35" y2="274" stroke="#000" stroke-width="1.4"/>
<line x1="335.00" y1="270.4" x2="335.00" y2="274" stroke="#000" stroke-width="1.4"/>
<line x1="350.65" y1="270.4" x2="350.65" y2="274" stroke="#000" stroke-width="1.4"/>
<line x1="62.90" y1="272.8" x2="75.90" y2="272.8" stroke="#ff0000" stroke-width="1.6"/>
<line x1="78.55" y1="272.8" x2="91.55" y2="272.8" stroke="#ff0000" stroke-width="1.6"/>
<line x1="94.20" y1="272.8" x2="107.20" y2="272.8" stroke="#ff0000" stroke-width="1.6"/>
<line x1="109.85" y1="272.8" x2="122.85" y2="272.8" stroke="#ff0000" stroke-width="1.6"/>
<line x1="141.00" y1="219.3" x2="154.00" y2="219.3" stroke="#ff0000" stroke-width="1.6"/>
<line x1="147.50" y1="216.6" x2="147.50" y2="221.6" stroke="#ff0000" stroke-width="1"/>
<line x1="144.50" y1="216.6" x2="150.50" y2="216.6" stroke="#ff0000" stroke-width="1"/>
<line x1="144.50" y1="221.6" x2="150.50" y2="221.6" stroke="#ff0000" stroke-width="1"/>
<line x1="156.65" y1="227.2" x2="169.65" y2="227.2" stroke="#ff0000" stroke-width="1.6"/>
<line x1="163.15" y1="224.5" x2="163.15" y2="230" stroke="#ff0000" stroke-width="1"/>
<line x1="160.15" y1="224.5" x2="166.15" y2="224.5" stroke="#ff0000" stroke-width="1"/>
<line x1="160.15" y1="230" x2="166.15" y2="230" stroke="#ff0000" stroke-width="1"/>
<line x1="172.30" y1="253.9" x2="185.30" y2="253.9" stroke="#ff0000" stroke-width="1.6"/>
<line x1="178.80" y1="251" x2="178.80" y2="256.5" stroke="#ff0000" stroke-width="1"/>
<line x1="175.80" y1="251" x2="181.80" y2="251" stroke="#ff0000" stroke-width="1"/>
<line x1="175.80" y1="256.5" x2="181.80" y2="256.5" stroke="#ff0000" stroke-width="1"/>
<line x1="187.95" y1="230.8" x2="200.95" y2="230.8" stroke="#ff0000" stroke-width="1.6"/>
<line x1="194.45" y1="228.5" x2="194.45" y2="233.2" stroke="#ff0000" stroke-width="1"/>
<line x1="191.45" y1="228.5" x2="197.45" y2="228.5" stroke="#ff0000" stroke-width="1"/>
<line x1="191.45" y1="233.2" x2="197.45" y2="233.2" stroke="#ff0000" stroke-width="1"/>
<line x1="219.10" y1="248" x2="232.10" y2="248" stroke="#ff0000" stroke-width="1.6"/>
<line x1="225.60" y1="245.5" x2="225.60" y2="251" stroke="#ff0000" stroke-width="1"/>
<line x1="222.60" y1="245.5" x2="228.60" y2="245.5" stroke="#ff0000" stroke-width="1"/>
<line x1="222.60" y1="251" x2="228.60" y2="251" stroke="#ff0000" stroke-width="1"/>
<line x1="234.75" y1="247.2" x2="247.75" y2="247.2" stroke="#ff0000" stroke-width="1.6"/>
<line x1="241.25" y1="244.5" x2="241.25" y2="250" stroke="#ff0000" stroke-width="1"/>
<line x1="238.25" y1="244.5" x2="244.25" y2="244.5" stroke="#ff0000" stroke-width="1"/>
<line x1="238.25" y1="250" x2="244.25" y2="250" stroke="#ff0000" stroke-width="1"/>
<line x1="250.40" y1="262.8" x2="263.40" y2="262.8" stroke="#ff0000" stroke-width="1.6"/>
<line x1="256.90" y1="260.8" x2="256.90" y2="264.6" stroke="#ff0000" stroke-width="1"/>
<line x1="253.90" y1="260.8" x2="259.90" y2="260.8" stroke="#ff0000" stroke-width="1"/>
<line x1="253.90" y1="264.6" x2="259.90" y2="264.6" stroke="#ff0000" stroke-width="1"/>
<line x1="266.05" y1="256" x2="279.05" y2="256" stroke="#ff0000" stroke-width="1.6"/>
<line x1="272.55" y1="253.2" x2="272.55" y2="258.6" stroke="#ff0000" stroke-width="1"/>
<line x1="269.55" y1="253.2" x2="275.55" y2="253.2" stroke="#ff0000" stroke-width="1"/>
<line x1="269.55" y1="258.6" x2="275.55" y2="258.6" stroke="#ff0000" stroke-width="1"/>
<line x1="297.20" y1="187.3" x2="310.20" y2="187.3" stroke="#ff0000" stroke-width="1.6"/>
<line x1="303.70" y1="183" x2="303.70" y2="191.5" stroke="#ff0000" stroke-width="1"/>
<line x1="300.70" y1="183" x2="306.70" y2="183" stroke="#ff0000" stroke-width="1"/>
<line x1="300.70" y1="191.5" x2="306.70" y2="191.5" stroke="#ff0000" stroke-width="1"/>
<line x1="312.85" y1="182" x2="325.85" y2="182" stroke="#ff0000" stroke-width="1.6"/>
<line x1="319.35" y1="179" x2="319.35" y2="185" stroke="#ff0000" stroke-width="1"/>
<line x1="316.35" y1="179" x2="322.35" y2="179" stroke="#ff0000" stroke-width="1"/>
<line x1="316.35" y1="185" x2="322.35" y2="185" stroke="#ff0000" stroke-width="1"/>
<line x1="328.50" y1="194.8" x2="341.50" y2="194.8" stroke="#ff0000" stroke-width="1.6"/>
<line x1="335.00" y1="190.9" x2="335.00" y2="198.8" stroke="#ff0000" stroke-width="1"/>
<line x1="332.00" y1="190.9" x2="338.00" y2="190.9" stroke="#ff0000" stroke-width="1"/>
<line x1="332.00" y1="198.8" x2="338.00" y2="198.8" stroke="#ff0000" stroke-width="1"/>
<line x1="344.15" y1="193.4" x2="357.15" y2="193.4" stroke="#ff0000" stroke-width="1.6"/>
<line x1="350.65" y1="189.3" x2="350.65" y2="196.8" stroke="#ff0000" stroke-width="1"/>
<line x1="347.65" y1="189.3" x2="353.65" y2="189.3" stroke="#ff0000" stroke-width="1"/>
<line x1="347.65" y1="196.8" x2="353.65" y2="196.8" stroke="#ff0000" stroke-width="1"/>
<path d="M147.20 84.10V77.30H197.90V84.10" fill="none" stroke="#505050" stroke-width="1.05"/>
<rect x="167.42" y="66.70" width="1.8" height="2.0" fill="#5a5a5a"/>
<rect x="170.17" y="66.70" width="1.8" height="2.0" fill="#5a5a5a"/>
<rect x="172.92" y="66.70" width="1.8" height="2.0" fill="#5a5a5a"/>
<rect x="175.67" y="66.70" width="1.8" height="2.0" fill="#5a5a5a"/>
<path d="M164.10 101.70V94.90H197.90V101.70" fill="none" stroke="#505050" stroke-width="1.05"/>
<rect x="180.00" y="84.30" width="1.8" height="2.0" fill="#5a5a5a"/>
<path d="M147.20 121.30V114.50H181.00V121.30" fill="none" stroke="#505050" stroke-width="1.05"/>
<rect x="158.97" y="103.90" width="1.8" height="2.0" fill="#5a5a5a"/>
<rect x="161.72" y="103.90" width="1.8" height="2.0" fill="#5a5a5a"/>
<rect x="164.47" y="103.90" width="1.8" height="2.0" fill="#5a5a5a"/>
<rect x="167.22" y="103.90" width="1.8" height="2.0" fill="#5a5a5a"/>
<path d="M147.20 140.60V133.80H164.10V140.60" fill="none" stroke="#505050" stroke-width="1.05"/>
<rect x="150.52" y="123.20" width="1.8" height="2.0" fill="#5a5a5a"/>
<rect x="153.27" y="123.20" width="1.8" height="2.0" fill="#5a5a5a"/>
<rect x="156.02" y="123.20" width="1.8" height="2.0" fill="#5a5a5a"/>
<rect x="158.77" y="123.20" width="1.8" height="2.0" fill="#5a5a5a"/>
<path d="M164.10 140.60V133.80H181.00V140.60" fill="none" stroke="#505050" stroke-width="1.05"/>
<rect x="167.43" y="123.20" width="1.8" height="2.0" fill="#5a5a5a"/>
<rect x="170.18" y="123.20" width="1.8" height="2.0" fill="#5a5a5a"/>
<rect x="172.93" y="123.20" width="1.8" height="2.0" fill="#5a5a5a"/>
<rect x="175.68" y="123.20" width="1.8" height="2.0" fill="#5a5a5a"/>
<path d="M181.00 140.60V133.80H197.90V140.60" fill="none" stroke="#505050" stroke-width="1.05"/>
<rect x="184.32" y="123.20" width="1.8" height="2.0" fill="#5a5a5a"/>
<rect x="187.07" y="123.20" width="1.8" height="2.0" fill="#5a5a5a"/>
<rect x="189.82" y="123.20" width="1.8" height="2.0" fill="#5a5a5a"/>
<rect x="192.57" y="123.20" width="1.8" height="2.0" fill="#5a5a5a"/>
<path d="M225.30 84.10V77.30H276.00V84.10" fill="none" stroke="#505050" stroke-width="1.05"/>
<rect x="245.52" y="66.70" width="1.8" height="2.0" fill="#5a5a5a"/>
<rect x="248.27" y="66.70" width="1.8" height="2.0" fill="#5a5a5a"/>
<rect x="251.02" y="66.70" width="1.8" height="2.0" fill="#5a5a5a"/>
<rect x="253.77" y="66.70" width="1.8" height="2.0" fill="#5a5a5a"/>
<path d="M242.20 101.40V94.60H276.00V101.40" fill="none" stroke="#505050" stroke-width="1.05"/>
<rect x="253.98" y="84.00" width="1.8" height="2.0" fill="#5a5a5a"/>
<rect x="256.73" y="84.00" width="1.8" height="2.0" fill="#5a5a5a"/>
<rect x="259.48" y="84.00" width="1.8" height="2.0" fill="#5a5a5a"/>
<rect x="262.23" y="84.00" width="1.8" height="2.0" fill="#5a5a5a"/>
<path d="M225.30 121.20V114.40H259.10V121.20" fill="none" stroke="#505050" stroke-width="1.05"/>
<rect x="237.07" y="103.80" width="1.8" height="2.0" fill="#5a5a5a"/>
<rect x="239.82" y="103.80" width="1.8" height="2.0" fill="#5a5a5a"/>
<rect x="242.57" y="103.80" width="1.8" height="2.0" fill="#5a5a5a"/>
<rect x="245.32" y="103.80" width="1.8" height="2.0" fill="#5a5a5a"/>
<path d="M242.20 140.60V133.80H259.10V140.60" fill="none" stroke="#505050" stroke-width="1.05"/>
<rect x="245.52" y="123.20" width="1.8" height="2.0" fill="#5a5a5a"/>
<rect x="248.27" y="123.20" width="1.8" height="2.0" fill="#5a5a5a"/>
<rect x="251.02" y="123.20" width="1.8" height="2.0" fill="#5a5a5a"/>
<rect x="253.77" y="123.20" width="1.8" height="2.0" fill="#5a5a5a"/>
<path d="M259.10 140.60V133.80H276.00V140.60" fill="none" stroke="#505050" stroke-width="1.05"/>
<rect x="262.42" y="123.20" width="1.8" height="2.0" fill="#5a5a5a"/>
<rect x="265.17" y="123.20" width="1.8" height="2.0" fill="#5a5a5a"/>
<rect x="267.92" y="123.20" width="1.8" height="2.0" fill="#5a5a5a"/>
<rect x="270.67" y="123.20" width="1.8" height="2.0" fill="#5a5a5a"/>
<path d="M303.40 19.60V12.80H354.10V19.60" fill="none" stroke="#505050" stroke-width="1.05"/>
<rect x="323.62" y="2.20" width="1.8" height="2.0" fill="#5a5a5a"/>
<rect x="326.38" y="2.20" width="1.8" height="2.0" fill="#5a5a5a"/>
<rect x="329.12" y="2.20" width="1.8" height="2.0" fill="#5a5a5a"/>
<rect x="331.88" y="2.20" width="1.8" height="2.0" fill="#5a5a5a"/>
<path d="M320.30 36.80V30.00H354.10V36.80" fill="none" stroke="#505050" stroke-width="1.05"/>
<rect x="332.07" y="19.40" width="1.8" height="2.0" fill="#5a5a5a"/>
<rect x="334.82" y="19.40" width="1.8" height="2.0" fill="#5a5a5a"/>
<rect x="337.57" y="19.40" width="1.8" height="2.0" fill="#5a5a5a"/>
<rect x="340.32" y="19.40" width="1.8" height="2.0" fill="#5a5a5a"/>
<path d="M303.40 57.50V50.70H337.20V57.50" fill="none" stroke="#505050" stroke-width="1.05"/>
<rect x="315.17" y="40.10" width="1.8" height="2.0" fill="#5a5a5a"/>
<rect x="317.92" y="40.10" width="1.8" height="2.0" fill="#5a5a5a"/>
<rect x="320.67" y="40.10" width="1.8" height="2.0" fill="#5a5a5a"/>
<rect x="323.42" y="40.10" width="1.8" height="2.0" fill="#5a5a5a"/>
<path d="M303.40 75.60V68.80H320.30V75.60" fill="none" stroke="#505050" stroke-width="1.05"/>
<rect x="306.72" y="58.20" width="1.8" height="2.0" fill="#5a5a5a"/>
<rect x="309.47" y="58.20" width="1.8" height="2.0" fill="#5a5a5a"/>
<rect x="312.22" y="58.20" width="1.8" height="2.0" fill="#5a5a5a"/>
<rect x="314.97" y="58.20" width="1.8" height="2.0" fill="#5a5a5a"/>
<path d="M320.30 75.60V68.80H337.20V75.60" fill="none" stroke="#505050" stroke-width="1.05"/>
<rect x="323.62" y="58.20" width="1.8" height="2.0" fill="#5a5a5a"/>
<rect x="326.38" y="58.20" width="1.8" height="2.0" fill="#5a5a5a"/>
<rect x="329.12" y="58.20" width="1.8" height="2.0" fill="#5a5a5a"/>
<rect x="331.88" y="58.20" width="1.8" height="2.0" fill="#5a5a5a"/>
<text x="91.20" y="287.2" font-size="11.2" text-anchor="middle" fill="#1a1a1a">0</text>
<text x="169.50" y="287.2" font-size="11.2" text-anchor="middle" fill="#1a1a1a">1</text>
<text x="248.30" y="287.2" font-size="11.2" text-anchor="middle" fill="#1a1a1a">6</text>
<text x="327.60" y="287.2" font-size="11.2" text-anchor="middle" fill="#1a1a1a">12+</text>
<text x="211.7" y="300.8" font-size="11.3" text-anchor="middle" fill="#1a1a1a">Time (month)</text>
<text x="394.6" y="9.8" font-size="12.5" font-weight="bold" fill="#000">B</text>
<line x1="427" y1="274.75" x2="434" y2="274.75" stroke="#000" stroke-width="1.5"/>
<text x="425.1" y="278.85" font-size="11.6" text-anchor="end" fill="#1a1a1a">0</text>
<line x1="427" y1="224.00" x2="434" y2="224.00" stroke="#000" stroke-width="1.5"/>
<text x="425.1" y="228.10" font-size="11.6" text-anchor="end" fill="#1a1a1a">25</text>
<line x1="427" y1="173.25" x2="434" y2="173.25" stroke="#000" stroke-width="1.5"/>
<text x="425.1" y="177.35" font-size="11.6" text-anchor="end" fill="#1a1a1a">50</text>
<line x1="427" y1="122.50" x2="434" y2="122.50" stroke="#000" stroke-width="1.5"/>
<text x="425.1" y="126.60" font-size="11.6" text-anchor="end" fill="#1a1a1a">75</text>
<line x1="427" y1="71.75" x2="434" y2="71.75" stroke="#000" stroke-width="1.5"/>
<text x="425.1" y="75.85" font-size="11.6" text-anchor="end" fill="#1a1a1a">100</text>
<line x1="433.9" y1="70.8" x2="433.9" y2="275.8" stroke="#000" stroke-width="2"/>
<line x1="433.5" y1="274.8" x2="739.6" y2="274.8" stroke="#000" stroke-width="2"/>
<line x1="535.8" y1="270.5" x2="535.8" y2="274" stroke="#000" stroke-width="1.3"/>
<line x1="637.1" y1="270.5" x2="637.1" y2="274" stroke="#000" stroke-width="1.3"/>
<line x1="738.8" y1="270.5" x2="738.8" y2="274" stroke="#000" stroke-width="1.3"/>
<text x="434.30" y="287.2" font-size="11.2" text-anchor="middle" fill="#1a1a1a">0</text>
<text x="535.80" y="287.2" font-size="11.2" text-anchor="middle" fill="#1a1a1a">1</text>
<text x="637.10" y="287.2" font-size="11.2" text-anchor="middle" fill="#1a1a1a">6</text>
<text x="738.80" y="287.2" font-size="11.2" text-anchor="middle" fill="#1a1a1a">12+</text>
<text x="586.5" y="301.2" font-size="11.4" text-anchor="middle" fill="#1a1a1a">Time (month)</text>
<text transform="translate(389.8 172.3) rotate(-90)" font-size="11.5" text-anchor="middle" fill="#1a1a1a">Seroconversion/Seropositivity rate (%)</text>
<polyline points="434.3,274.75 535.8,146.86 637.1,232.73" fill="none" stroke="#000" stroke-width="1"/>
<path d="M637.10 232.73L646.34 222.88M650.45 218.50L657.64 210.84M661.76 206.45L668.94 198.79M673.06 194.40L680.24 186.75M684.36 182.36L691.54 174.70M695.66 170.31L702.84 162.65M706.96 158.26L714.14 150.61M718.26 146.22L725.45 138.56M729.56 134.17L738.80 124.33" stroke="#000" stroke-width="0.95" fill="none"/>
<polyline points="434.3,274.75 535.8,166.15 637.1,225.62" fill="none" stroke="#ff0000" stroke-width="1"/>
<path d="M637.10 225.62L646.47 215.90M650.46 211.75L657.75 204.19M661.74 200.04L669.03 192.48M673.03 188.33L680.31 180.77M684.31 176.62L691.59 169.06M695.59 164.92L702.87 157.35M706.87 153.21L714.16 145.64M718.15 141.50L725.44 133.93M729.43 129.79L738.80 120.06" stroke="#ff0000" stroke-width="0.95" fill="none"/>
<polyline points="434.3,274.75 535.8,246.94 637.1,258.10" fill="none" stroke="#0000ff" stroke-width="1"/>
<path d="M637.10 258.10L644.95 247.12M648.05 242.78L654.16 234.23M657.27 229.89L663.37 221.34M666.48 217.00L672.58 208.46M675.69 204.11L681.79 195.57M684.90 191.22L691.00 182.68M694.11 178.34L700.21 169.79M703.32 165.45L709.42 156.91M712.53 152.56L718.63 144.02M721.74 139.67L727.85 131.13M730.95 126.78L738.80 115.80" stroke="#0000ff" stroke-width="0.95" fill="none"/>
<polyline points="434.3,274.75 535.8,181.98 637.1,242.88" fill="none" stroke="#00ff00" stroke-width="1"/>
<path d="M637.10 242.88L646.02 232.75M649.17 229.17L656.11 221.29M659.26 217.71L666.20 209.83M669.35 206.25L676.29 198.37M679.44 194.79L686.38 186.91M689.52 183.34L696.46 175.46M699.61 171.88L706.55 164.00M709.70 160.42L716.64 152.54M719.79 148.96L726.73 141.08M729.88 137.50L738.80 127.37" stroke="#00ff00" stroke-width="0.95" fill="none"/>
<circle cx="535.8" cy="181.98" r="2.1" fill="#00ff00"/>
<circle cx="637.1" cy="242.88" r="2.1" fill="#00ff00"/>
<circle cx="738.8" cy="127.37" r="2.1" fill="#00ff00"/>
<circle cx="535.8" cy="146.86" r="2.1" fill="#000"/>
<circle cx="637.1" cy="232.73" r="2.1" fill="#000"/>
<circle cx="738.8" cy="124.33" r="2.1" fill="#000"/>
<circle cx="535.8" cy="166.15" r="2.1" fill="#ff0000"/>
<circle cx="637.1" cy="225.62" r="2.1" fill="#ff0000"/>
<circle cx="738.8" cy="120.06" r="2.1" fill="#ff0000"/>
<circle cx="535.8" cy="246.94" r="2.1" fill="#0000ff"/>
<circle cx="637.1" cy="258.10" r="2.1" fill="#0000ff"/>
<circle cx="738.8" cy="115.80" r="2.1" fill="#0000ff"/>
<circle cx="434.3" cy="274.75" r="2.1" fill="#000"/>
<line x1="653.3" y1="70.6" x2="668.1" y2="70.6" stroke="#000" stroke-width="1"/>
<circle cx="660.7" cy="70.6" r="2.1" fill="#000"/>
<text transform="translate(676.7 74.00) scale(0.9 1)" font-size="10.4" letter-spacing="0.3" fill="#1a1a1a">Wuhan-Hu-1</text>
<line x1="653.3" y1="84.5" x2="668.1" y2="84.5" stroke="#ff0000" stroke-width="1"/>
<circle cx="660.7" cy="84.5" r="2.1" fill="#ff0000"/>
<text transform="translate(676.7 87.90) scale(0.9 1)" font-size="10.4" letter-spacing="0.3" fill="#1a1a1a">B.1.1.7</text>
<line x1="653.3" y1="98.7" x2="668.1" y2="98.7" stroke="#0000ff" stroke-width="1"/>
<circle cx="660.7" cy="98.7" r="2.1" fill="#0000ff"/>
<text transform="translate(676.7 102.10) scale(0.9 1)" font-size="10.4" letter-spacing="0.3" fill="#1a1a1a">B.1.351</text>
<line x1="653.3" y1="113.3" x2="668.1" y2="113.3" stroke="#00ff00" stroke-width="1"/>
<circle cx="660.7" cy="113.3" r="2.1" fill="#00ff00"/>
<text transform="translate(676.7 116.70) scale(0.9 1)" font-size="10.4" letter-spacing="0.3" fill="#1a1a1a">B.1.617.2</text>
</svg></body></html>
